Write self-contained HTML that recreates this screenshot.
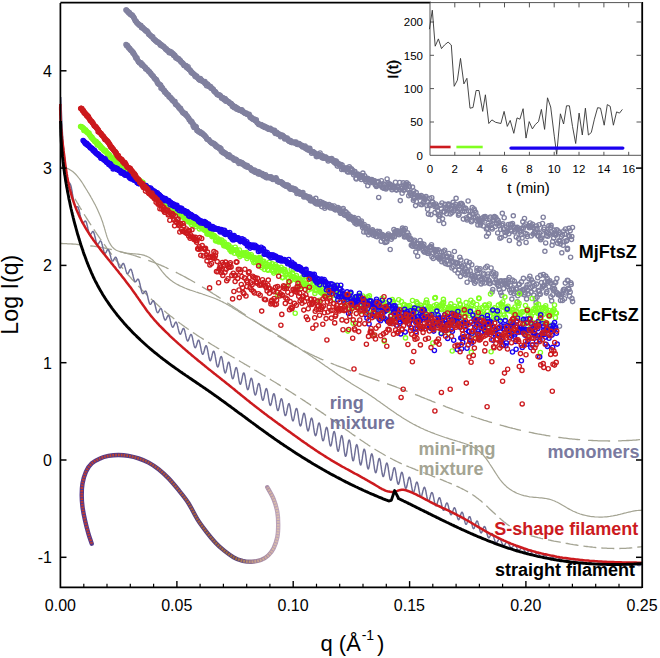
<!DOCTYPE html>
<html><head><meta charset="utf-8"><style>
html,body{margin:0;padding:0;background:#fff;}
svg{display:block;}
</style></head><body>
<svg width="660" height="658" viewBox="0 0 660 658">
<defs><marker id="mg" viewBox="-3 -3 6 6" markerWidth="6" markerHeight="6" markerUnits="userSpaceOnUse" refX="0" refY="0" overflow="visible"><circle r="2.1" fill="none" stroke="#80809f" stroke-width="1.35"/></marker><marker id="mr" viewBox="-3 -3 6 6" markerWidth="6" markerHeight="6" markerUnits="userSpaceOnUse" refX="0" refY="0" overflow="visible"><circle r="2.1" fill="none" stroke="#cc1a1e" stroke-width="1.35"/></marker><marker id="mgr" viewBox="-3 -3 6 6" markerWidth="6" markerHeight="6" markerUnits="userSpaceOnUse" refX="0" refY="0" overflow="visible"><circle r="2.1" fill="none" stroke="#80ff20" stroke-width="1.35"/></marker><marker id="mb" viewBox="-3 -3 6 6" markerWidth="6" markerHeight="6" markerUnits="userSpaceOnUse" refX="0" refY="0" overflow="visible"><circle r="2.1" fill="none" stroke="#1a00f0" stroke-width="1.35"/></marker></defs>
<rect width="660" height="658" fill="#fff"/>
<polyline points="60.3,243.5 61.8,243.5 63.3,243.6 64.8,243.6 66.3,243.7 67.8,243.8 69.3,243.8 70.8,243.9 72.3,244 73.8,244.1 75.3,244.2 76.8,244.3 78.3,244.5 79.8,244.6 81.3,244.7 82.8,244.9 84.3,245.1 85.8,245.2 87.3,245.4 88.8,245.6 90.2,245.8 91.7,246 93.2,246.2 94.7,246.4 96.2,246.7 97.7,246.9 99.1,247.1 100.6,247.4 102.1,247.7 103.6,247.9 105,248.2 106.5,248.5 108,248.8 109.4,249.1 110.9,249.4 112.4,249.7 113.8,250 115.3,250.4 116.8,250.7 118.2,251.1 119.7,251.4 121.1,251.8 122.6,252.2 124,252.6 125.5,253 126.9,253.4 128.3,253.8 129.8,254.2 131.2,254.6 132.6,255 134.1,255.5 135.5,255.9 136.9,256.4 138.3,256.8 139.8,257.3 141.2,257.8 142.6,258.3 144,258.8 145.4,259.3 146.8,259.8 148.2,260.3 149.6,260.8 151,261.3 152.4,261.9 153.8,262.4 155.2,263 156.6,263.5 158,264.1 159.3,264.7 160.7,265.2 162.1,265.8 163.5,266.4 164.8,267 166.2,267.6 167.5,268.3 168.9,268.9 170.2,269.5 171.6,270.2 172.9,270.8 174.3,271.5 175.6,272.1 177,272.8 178.3,273.5 179.6,274.2 180.9,274.8 182.3,275.5 183.6,276.2 184.9,276.9 186.2,277.6 187.5,278.4 188.8,279.1 190.1,279.8 191.4,280.5 192.7,281.3 194,282 195.3,282.8 196.6,283.5 197.9,284.3 199.2,285 200.5,285.8 201.8,286.6 203,287.4 204.3,288.1 205.6,288.9 206.9,289.7 208.1,290.5 209.4,291.3 210.7,292.1 212,292.9 213.2,293.7 214.5,294.5 215.8,295.3 217,296.1 218.3,296.9 219.5,297.7 220.8,298.5 222.1,299.4 223.3,300.2 224.6,301 225.8,301.8 227.1,302.7 228.3,303.5 229.6,304.3 230.8,305.2 232.1,306 233.3,306.8 234.6,307.7 235.8,308.5 237.1,309.3 238.3,310.2 239.6,311 240.8,311.8 242.1,312.7 243.3,313.5 244.6,314.3 245.8,315.2 247.1,316 248.3,316.8 249.6,317.7 250.8,318.5 252.1,319.3 253.3,320.2 254.6,321 255.8,321.8 257.1,322.7 258.3,323.5 259.6,324.3 260.8,325.1 262.1,326 263.3,326.8 264.6,327.6 265.9,328.4 267.1,329.2 268.4,330 269.6,330.8 270.9,331.6 272.2,332.4 273.4,333.2 274.7,334 276,334.8 277.2,335.6 278.5,336.4 279.8,337.2 281.1,337.9 282.3,338.7 283.6,339.5 284.9,340.2 286.2,341 287.5,341.8 288.7,342.5 290,343.2 291.3,344 292.6,344.7 293.9,345.5 295.2,346.2 296.5,346.9 297.8,347.6 299.1,348.3 300.4,349 301.7,349.7 303.1,350.4 304.4,351.1 305.7,351.8 307,352.4 308.4,353.1 309.7,353.8 311,354.4 312.3,355 313.7,355.7 315,356.3 316.4,356.9 317.7,357.5 319.1,358.2 320.4,358.8 321.8,359.4 323.2,359.9 324.5,360.5 325.9,361.1 327.3,361.7 328.6,362.3 330,362.8 331.4,363.4 332.8,363.9 334.1,364.5 335.5,365 336.9,365.6 338.3,366.1 339.7,366.6 341.1,367.2 342.5,367.7 343.9,368.2 345.3,368.7 346.6,369.3 348,369.8 349.4,370.3 350.8,370.8 352.3,371.3 353.7,371.8 355.1,372.3 356.5,372.8 357.9,373.3 359.3,373.8 360.7,374.3 362.1,374.8 363.5,375.3 364.9,375.8 366.3,376.3 367.7,376.8 369.2,377.3 370.6,377.8 372,378.3 373.4,378.8 374.8,379.3 376.2,379.8 377.6,380.3 379,380.8 380.4,381.3 381.9,381.8 383.3,382.3 384.7,382.8 386.1,383.3 387.5,383.8 388.9,384.3 390.3,384.8 391.7,385.4 393.1,385.9 394.5,386.4 395.9,386.9 397.3,387.5 398.7,388 400.1,388.5 401.5,389.1 402.9,389.6 404.3,390.2 405.7,390.7 407.1,391.3 408.5,391.8 409.9,392.4 411.3,392.9 412.7,393.5 414.1,394 415.5,394.6 416.9,395.1 418.3,395.7 419.7,396.2 421.1,396.8 422.4,397.4 423.8,397.9 425.2,398.5 426.6,399 428,399.6 429.4,400.1 430.8,400.7 432.2,401.3 433.6,401.8 435,402.4 436.4,402.9 437.8,403.5 439.2,404 440.5,404.6 441.9,405.1 443.3,405.7 444.7,406.2 446.1,406.8 447.5,407.3 448.9,407.8 450.3,408.4 451.7,408.9 453.1,409.5 454.5,410 455.9,410.5 457.3,411 458.7,411.5 460.1,412.1 461.5,412.6 462.9,413.1 464.4,413.6 465.8,414.1 467.2,414.6 468.6,415.1 470,415.6 471.4,416.1 472.8,416.5 474.2,417 475.7,417.5 477.1,418 478.5,418.4 479.9,418.9 481.3,419.3 482.8,419.8 484.2,420.3 485.6,420.7 487,421.1 488.5,421.6 489.9,422 491.3,422.4 492.7,422.9 494.2,423.3 495.6,423.7 497,424.1 498.5,424.5 499.9,424.9 501.3,425.3 502.8,425.7 504.2,426.1 505.7,426.5 507.1,426.9 508.5,427.3 510,427.7 511.4,428 512.9,428.4 514.3,428.7 515.8,429.1 517.2,429.5 518.7,429.8 520.1,430.1 521.6,430.5 523,430.8 524.5,431.1 525.9,431.5 527.4,431.8 528.8,432.1 530.3,432.4 531.7,432.7 533.2,433 534.7,433.3 536.1,433.6 537.6,433.9 539,434.1 540.5,434.4 542,434.7 543.4,434.9 544.9,435.2 546.4,435.5 547.8,435.7 549.3,435.9 550.8,436.2 552.2,436.4 553.7,436.6 555.2,436.9 556.7,437.1 558.1,437.3 559.6,437.5 561.1,437.7 562.6,437.9 564.1,438.1 565.5,438.2 567,438.4 568.5,438.6 570,438.8 571.5,438.9 572.9,439.1 574.4,439.2 575.9,439.4 577.4,439.5 578.9,439.6 580.4,439.7 581.9,439.9 583.4,440 584.9,440.1 586.4,440.2 587.8,440.3 589.3,440.4 590.8,440.4 592.3,440.5 593.8,440.6 595.3,440.7 596.8,440.7 598.3,440.8 599.8,440.8 601.3,440.9 602.8,440.9 604.3,440.9 605.8,440.9 607.3,440.9 608.9,441 610.4,441 611.9,440.9 613.4,440.9 614.9,440.9 616.4,440.9 617.9,440.9 619.4,440.8 620.9,440.8 622.5,440.7 624,440.7 625.5,440.6 627,440.5 628.5,440.5 630,440.4 631.6,440.3 633.1,440.2 634.6,440.1 636.1,440 637.6,439.8 639.2,439.7 640.7,439.6 642.2,439.4" fill="none" stroke="#a4a493" stroke-width="1.3" stroke-dasharray="22 8"/>
<polyline points="60.4,166.8 62,167 63.5,167.2 65,167.5 66.4,168 67.8,168.5 69.1,169.2 70.3,169.9 71.5,170.7 72.7,171.5 73.8,172.5 74.9,173.5 75.9,174.5 76.9,175.6 77.9,176.8 78.8,178 79.7,179.2 80.6,180.4 81.5,181.7 82.4,183 83.2,184.3 84,185.6 84.8,186.9 85.6,188.2 86.4,189.5 87.2,190.8 88,192.1 88.8,193.3 89.5,194.6 90.3,195.9 91,197.2 91.7,198.4 92.4,199.7 93.1,201 93.8,202.3 94.5,203.6 95.2,204.8 95.8,206.1 96.5,207.5 97.1,208.8 97.7,210.1 98.3,211.4 98.9,212.8 99.5,214.2 100.1,215.5 100.7,216.9 101.2,218.3 101.7,219.8 102.3,221.2 102.8,222.7 103.2,224.2 103.7,225.7 104.2,227.2 104.6,228.7 105.1,230.3 105.5,231.9 106,233.4 106.4,234.9 106.9,236.5 107.4,237.9 108,239.4 108.6,240.8 109.2,242.2 109.9,243.4 110.6,244.7 111.4,245.8 112.2,246.9 113.1,247.8 114.1,248.7 115.2,249.5 116.3,250.2 117.5,250.8 118.8,251.3 120.1,251.8 121.4,252.2 122.8,252.5 124.3,252.8 125.7,253.1 127.2,253.3 128.7,253.4 130.2,253.6 131.8,253.7 133.3,253.8 134.8,253.9 136.4,254 137.9,254.1 139.4,254.3 140.8,254.5 142.3,254.8 143.7,255.1 145,255.6 146.4,256.1 147.7,256.7 148.9,257.3 150.1,258.1 151.3,258.9 152.4,259.8 153.5,260.8 154.5,261.9 155.5,263 156.5,264.2 157.5,265.4 158.5,266.6 159.4,267.8 160.4,269.1 161.3,270.3 162.3,271.6 163.3,272.8 164.3,274 165.3,275.1 166.3,276.3 167.4,277.3 168.5,278.3 169.6,279.3 170.8,280.2 172,281.1 173.2,281.9 174.4,282.7 175.6,283.5 176.9,284.2 178.2,284.9 179.5,285.6 180.8,286.2 182.1,286.8 183.4,287.4 184.8,288 186.2,288.5 187.5,289.1 188.9,289.6 190.3,290.1 191.7,290.5 193.1,291 194.6,291.5 196,292 197.4,292.4 198.8,292.9 200.2,293.3 201.7,293.8 203.1,294.3 204.5,294.7 205.9,295.2 207.3,295.7 208.8,296.2 210.2,296.7 211.6,297.2 213,297.7 214.4,298.2 215.7,298.8 217.1,299.4 218.5,300 219.8,300.6 221.2,301.3 222.5,301.9 223.8,302.6 225.2,303.3 226.5,304.1 227.8,304.8 229.1,305.6 230.4,306.3 231.7,307.1 232.9,307.9 234.2,308.7 235.5,309.5 236.8,310.3 238.1,311.1 239.3,311.9 240.6,312.7 241.9,313.5 243.1,314.3 244.4,315.1 245.7,315.9 247,316.7 248.2,317.5 249.5,318.2 250.8,319 252.1,319.8 253.4,320.6 254.7,321.3 255.9,322.1 257.2,322.8 258.5,323.6 259.8,324.4 261.1,325.1 262.4,325.9 263.7,326.6 265,327.4 266.2,328.1 267.5,328.9 268.8,329.6 270.1,330.4 271.4,331.1 272.7,331.9 274,332.7 275.2,333.4 276.5,334.2 277.8,335 279.1,335.7 280.4,336.5 281.6,337.3 282.9,338.1 284.2,338.9 285.5,339.6 286.7,340.4 288,341.2 289.3,342 290.5,342.8 291.8,343.6 293.1,344.4 294.3,345.2 295.6,346 296.8,346.8 298.1,347.6 299.4,348.4 300.6,349.2 301.9,350 303.1,350.9 304.4,351.7 305.6,352.5 306.9,353.3 308.1,354.1 309.4,355 310.6,355.8 311.9,356.6 313.1,357.5 314.3,358.3 315.6,359.1 316.8,360 318.1,360.8 319.3,361.6 320.5,362.5 321.7,363.3 323,364.2 324.2,365 325.4,365.9 326.7,366.7 327.9,367.6 329.1,368.4 330.3,369.3 331.5,370.1 332.8,371 334,371.8 335.2,372.7 336.4,373.5 337.6,374.4 338.9,375.2 340.1,376 341.3,376.9 342.5,377.7 343.8,378.5 345,379.4 346.2,380.2 347.5,381 348.7,381.8 350,382.6 351.2,383.4 352.5,384.2 353.7,385 355,385.8 356.2,386.5 357.5,387.3 358.8,388.1 360,388.8 361.3,389.6 362.6,390.4 363.8,391.2 365.1,392 366.3,392.8 367.6,393.6 368.8,394.4 370.1,395.3 371.3,396.1 372.5,396.9 373.8,397.8 375,398.6 376.2,399.5 377.4,400.4 378.7,401.2 379.9,402.1 381.1,403 382.3,403.8 383.5,404.7 384.7,405.6 386,406.4 387.2,407.3 388.4,408.2 389.6,409 390.9,409.9 392.1,410.8 393.3,411.6 394.5,412.5 395.8,413.3 397,414.2 398.3,415 399.5,415.8 400.8,416.6 402,417.4 403.3,418.2 404.5,419 405.8,419.8 407.1,420.6 408.4,421.3 409.6,422.1 410.9,422.8 412.2,423.5 413.5,424.2 414.9,424.9 416.2,425.6 417.5,426.3 418.8,426.9 420.2,427.6 421.5,428.2 422.9,428.8 424.2,429.5 425.6,430.1 427,430.6 428.3,431.2 429.7,431.8 431.1,432.4 432.5,432.9 433.9,433.4 435.3,434 436.7,434.5 438.1,435 439.5,435.5 440.9,436 442.3,436.5 443.8,437 445.2,437.5 446.6,437.9 448.1,438.4 449.5,438.9 450.9,439.3 452.4,439.7 453.8,440.2 455.3,440.6 456.7,441 458.2,441.5 459.6,441.9 461,442.4 462.5,442.8 463.9,443.3 465.3,443.8 466.7,444.3 468.1,444.8 469.4,445.4 470.7,446 472,446.6 473.3,447.3 474.6,448 475.8,448.7 477,449.5 478.2,450.4 479.3,451.3 480.4,452.2 481.5,453.2 482.5,454.3 483.5,455.4 484.4,456.5 485.4,457.7 486.3,458.9 487.2,460.1 488.1,461.4 489,462.7 489.8,464 490.7,465.3 491.5,466.6 492.4,467.9 493.2,469.2 494.1,470.6 494.9,471.9 495.7,473.2 496.6,474.5 497.5,475.8 498.3,477.1 499.2,478.4 500.1,479.6 501.1,480.8 502,482 503,483.1 504,484.2 505.1,485.2 506.1,486.2 507.2,487.2 508.3,488.1 509.5,488.9 510.7,489.7 511.9,490.5 513.1,491.2 514.4,491.9 515.7,492.6 517,493.2 518.3,493.7 519.7,494.3 521,494.7 522.4,495.2 523.8,495.6 525.2,495.9 526.7,496.2 528.1,496.5 529.6,496.8 531.1,497 532.6,497.1 534.1,497.3 535.6,497.4 537.1,497.5 538.6,497.7 540.1,497.8 541.6,497.9 543.1,498.1 544.6,498.3 546.1,498.5 547.6,498.8 549,499.1 550.4,499.5 551.9,500 553.2,500.5 554.6,501 556,501.7 557.3,502.3 558.7,503 560,503.7 561.3,504.5 562.6,505.3 563.9,506 565.2,506.8 566.5,507.6 567.9,508.4 569.2,509.1 570.5,509.8 571.9,510.5 573.2,511.2 574.6,511.8 576,512.4 577.4,513 578.8,513.5 580.2,514 581.6,514.4 583,514.8 584.5,515.2 585.9,515.5 587.4,515.8 588.8,516.1 590.3,516.4 591.8,516.6 593.2,516.7 594.7,516.9 596.2,517 597.7,517 599.2,517.1 600.7,517.1 602.1,517.1 603.6,517 605.1,516.9 606.6,516.8 608.1,516.6 609.6,516.5 611.1,516.2 612.6,516 614,515.7 615.5,515.4 617,515.1 618.5,514.7 619.9,514.4 621.4,514 622.9,513.6 624.3,513.2 625.8,512.9 627.2,512.5 628.7,512.1 630.2,511.8 631.6,511.5 633.1,511.2 634.6,510.9 636,510.7 637.5,510.5 639,510.4 640.5,510.3 642,510.2" fill="none" stroke="#a4a493" stroke-width="1.2" stroke-linejoin="round"/>
<polyline points="66.3,183 67,184.3 67.7,185.6 68.4,186.9 69.1,188.2 69.8,189.5 70.5,190.8 71.2,192.1 72,193.4 72.7,194.7 73.4,196 74.1,197.3 74.9,198.6 75.6,199.9 76.4,201.2 77.1,202.5 77.9,203.7 78.6,205 79.4,206.3 80.1,207.6 80.9,208.9 81.7,210.2 82.5,211.4 83.2,212.7 84,214 84.8,215.3 85.6,216.5 86.4,217.8 87.2,219.1 88,220.4 88.8,221.6 89.6,222.9 90.4,224.1 91.2,225.4 92,226.7 92.9,227.9 93.7,229.2 94.5,230.4 95.3,231.7 96.2,232.9 97,234.2 97.9,235.4 98.7,236.6 99.6,237.9 100.4,239.1 101.3,240.3 102.2,241.6 103,242.8 103.9,244 104.8,245.2 105.7,246.4 106.5,247.7 107.4,248.9 108.3,250.1 109.2,251.3 110.1,252.5 111,253.7 111.9,254.9 112.9,256.1 113.8,257.3 114.7,258.4 115.6,259.6 116.5,260.8 117.5,262 118.4,263.1 119.4,264.3 120.3,265.5 121.3,266.6 122.2,267.8 123.2,268.9 124.1,270.1 125.1,271.2 126.1,272.4 127,273.5 128,274.7 129,275.8 130,276.9 131,278 132,279.2 133,280.3 134,281.4 135,282.5 136,283.6 137,284.7 138.1,285.8 139.1,286.8 140.1,287.9 141.2,289 142.2,290.1 143.2,291.1 144.3,292.2 145.3,293.3 146.4,294.3 147.5,295.4 148.5,296.4 149.6,297.5 150.7,298.5 151.7,299.5 152.8,300.5 153.9,301.6 155,302.6 156.1,303.6 157.2,304.6 158.3,305.6 159.4,306.6 160.5,307.6 161.7,308.5 162.8,309.5 163.9,310.5 165.1,311.5 166.2,312.4 167.3,313.4 168.5,314.3 169.6,315.3 170.8,316.2 172,317.1 173.1,318 174.3,319 175.5,319.9 176.7,320.8 177.8,321.7 179,322.6 180.2,323.5 181.4,324.3 182.6,325.2 183.8,326.1 185,327 186.3,327.8 187.5,328.7 188.7,329.5 189.9,330.4 191.1,331.2 192.4,332.1 193.6,332.9 194.9,333.7 196.1,334.5 197.3,335.4 198.6,336.2 199.8,337 201.1,337.8 202.4,338.6 203.6,339.4 204.9,340.2 206.1,341 207.4,341.8 208.7,342.6 209.9,343.4 211.2,344.2 212.5,345 213.8,345.7 215,346.5 216.3,347.3 217.6,348.1 218.9,348.8 220.2,349.6 221.5,350.4 222.7,351.1 224,351.9 225.3,352.7 226.6,353.4 227.9,354.2 229.2,355 230.5,355.7 231.8,356.5 233.1,357.2 234.4,358 235.6,358.8 236.9,359.5 238.2,360.3 239.5,361 240.8,361.8 242.1,362.5 243.4,363.3 244.7,364.1 246,364.8 247.3,365.6 248.6,366.3 249.9,367.1 251.1,367.9 252.4,368.6 253.7,369.4 255,370.2 256.3,370.9 257.6,371.7 258.9,372.5 260.1,373.2 261.4,374 262.7,374.8 264,375.5 265.3,376.3 266.5,377.1 267.8,377.9 269.1,378.6 270.4,379.4 271.6,380.2 272.9,381 274.2,381.8 275.5,382.5 276.7,383.3 278,384.1 279.3,384.9 280.5,385.7 281.8,386.5 283.1,387.3 284.3,388 285.6,388.8 286.9,389.6 288.1,390.4 289.4,391.2 290.7,392 291.9,392.8 293.2,393.6 294.4,394.4 295.7,395.2 297,396.1 298.2,396.9 299.5,397.7 300.7,398.5 302,399.3 303.2,400.1 304.5,400.9 305.7,401.8 307,402.6 308.2,403.4 309.5,404.2 310.7,405.1 311.9,405.9 313.2,406.7 314.4,407.5 315.7,408.4 316.9,409.2 318.1,410.1 319.4,410.9 320.6,411.7 321.9,412.6 323.1,413.4 324.3,414.3 325.5,415.1 326.8,416 328,416.8 329.2,417.7 330.5,418.6 331.7,419.4 332.9,420.3 334.1,421.2 335.4,422 336.6,422.9 337.8,423.8 339,424.6 340.2,425.5 341.5,426.4 342.7,427.2 343.9,428.1 345.1,429 346.3,429.9 347.6,430.7 348.8,431.6 350,432.5 351.2,433.3 352.4,434.2 353.7,435.1 354.9,435.9 356.1,436.8 357.4,437.6 358.6,438.5 359.8,439.3 361.1,440.2 362.3,441 363.5,441.8 364.8,442.7 366,443.5 367.3,444.3 368.5,445.2 369.8,446 371,446.8 372.3,447.6 373.5,448.4 374.8,449.2 376.1,450 377.3,450.7 378.6,451.5 379.9,452.3 381.2,453 382.5,453.8 383.7,454.5 385,455.3 386.3,456 387.6,456.7 388.9,457.4 390.3,458.1 391.6,458.8 392.9,459.5 394.2,460.2 395.6,460.9 396.9,461.5 398.2,462.2 399.6,462.8 400.9,463.4 402.3,464 403.7,464.6 405,465.2 406.4,465.8 407.8,466.4 409.2,467 410.6,467.5 412,468.1 413.4,468.7 414.7,469.2 416.1,469.8 417.5,470.3 418.9,470.9 420.3,471.4 421.8,471.9 423.2,472.5 424.6,473 426,473.5 427.4,474.1 428.8,474.6 430.2,475.2 431.6,475.7 433,476.3 434.4,476.8 435.8,477.4 437.1,477.9 438.5,478.5 439.9,479.1 441.3,479.6 442.7,480.2 444.1,480.8 445.5,481.4 446.8,482 448.2,482.5 449.6,483.1 451,483.7 452.3,484.3 453.7,484.9 455.1,485.5 456.4,486.1 457.8,486.7 459.2,487.3 460.5,488 461.8,488.6 463.2,489.3 464.5,490 465.8,490.7 467.1,491.4 468.4,492.1 469.7,492.9 470.9,493.6 472.2,494.4 473.4,495.3 474.6,496.1 475.8,497 477,497.9 478.2,498.8 479.3,499.7 480.5,500.6 481.6,501.6 482.8,502.6 483.9,503.6 485,504.6 486.1,505.6 487.2,506.6 488.3,507.6 489.4,508.7 490.5,509.7 491.6,510.7 492.7,511.8 493.8,512.8 494.9,513.8 496,514.9 497.1,515.9 498.2,516.9 499.3,517.9 500.4,518.8 501.5,519.8 502.7,520.8 503.8,521.7 505,522.6 506.1,523.5 507.3,524.4 508.5,525.2 509.7,526 510.9,526.8 512.1,527.6 513.4,528.3 514.6,529 515.9,529.7 517.2,530.4 518.5,531 519.8,531.6 521.2,532.2 522.5,532.7 523.9,533.3 525.2,533.8 526.6,534.3 528,534.7 529.4,535.2 530.8,535.6 532.2,536 533.6,536.4 535.1,536.8 536.5,537.2 538,537.6 539.4,537.9 540.9,538.3 542.3,538.6 543.8,538.9 545.3,539.3 546.7,539.6 548.2,539.9 549.7,540.2 551.2,540.5 552.7,540.8 554.1,541.1 555.6,541.3 557.1,541.6 558.6,541.9 560.1,542.2 561.6,542.5 563,542.7 564.5,543 566,543.3 567.5,543.5 569,543.8 570.5,544.1 572,544.3 573.4,544.6 574.9,544.8 576.4,545 577.9,545.3 579.4,545.5 580.9,545.7 582.4,545.9 583.9,546.1 585.3,546.3 586.8,546.5 588.3,546.7 589.8,546.8 591.3,547 592.8,547.2 594.3,547.3 595.8,547.5 597.3,547.6 598.8,547.7 600.3,547.9 601.7,548 603.2,548.1 604.7,548.1 606.2,548.2 607.7,548.3 609.2,548.4 610.7,548.4 612.2,548.4 613.7,548.5 615.2,548.5 616.7,548.5 618.1,548.5 619.6,548.5 621.1,548.4 622.6,548.4 624.1,548.3 625.6,548.3 627.1,548.2 628.6,548.1 630.1,548 631.6,547.9 633,547.7 634.5,547.6 636,547.4 637.5,547.2 639,547 640.5,546.8 642,546.6" fill="none" stroke="#a4a493" stroke-width="1.3" stroke-dasharray="13 5"/>
<polyline points="60.8,97 61.3,110 62,125 62.8,140 63.8,152 65,163 66.3,172 67.7,179 67.9,180.5 68.2,181.4 68.6,182.1 68.9,182.6 69.3,182.9 69.6,183.2 70,183.5 70.3,184.2 70.7,185.1 71,186.3 71.4,187.8 71.7,189.6 72.1,191.5 72.4,193.7 72.8,195.8 73.1,198 73.5,200 73.8,201.9 74.2,203.5 74.5,204.8 74.9,205.7 75.2,206.4 75.6,206.7 75.9,206.9 76.3,206.8 76.6,206.7 77,206.6 77.3,206.6 77.7,206.8 78,207.2 78.4,207.9 78.7,208.9 79.1,210.1 79.4,211.6 79.8,213.2 80.1,214.9 80.5,216.7 80.8,218.4 81.2,219.9 81.5,221.1 81.9,222.1 82.2,222.8 82.6,223.2 82.9,223.3 83.3,223.1 83.6,222.7 84,222.2 84.3,221.7 84.7,221.3 85,221.1 85.4,221 85.7,221.3 86.1,221.8 86.4,222.6 86.8,223.8 87.1,225.1 87.5,226.6 87.8,228.2 88.2,229.7 88.5,231.2 88.9,232.4 89.2,233.4 89.6,234.1 89.9,234.5 90.3,234.6 90.6,234.4 91,233.9 91.3,233.4 91.7,232.8 92,232.2 92.4,231.8 92.7,231.5 93.1,231.5 93.4,231.9 93.8,232.5 94.1,233.4 94.5,234.6 94.8,236 95.2,237.5 95.5,239.1 95.9,240.5 96.2,241.9 96.6,243 96.9,243.8 97.3,244.3 97.6,244.5 98,244.3 98.3,244 98.7,243.4 99,242.7 99.4,242.1 99.7,241.5 100.1,241.1 100.4,240.9 100.8,241 101.1,241.5 101.5,242.2 101.8,243.3 102.2,244.5 102.5,246 102.9,247.4 103.2,248.9 103.6,250.3 103.9,251.4 104.3,252.4 104.6,253 105,253.2 105.3,253.2 105.7,252.9 106,252.4 106.4,251.8 106.7,251.1 107.1,250.4 107.4,249.9 107.8,249.6 108.1,249.5 108.5,249.8 108.8,250.3 109.2,251.2 109.5,252.3 109.9,253.6 110.2,255 110.6,256.4 110.9,257.7 111.3,258.9 111.6,259.9 112,260.6 112.3,261 112.7,261.1 113,260.9 113.4,260.5 113.7,259.9 114.1,259.2 114.4,258.5 114.8,257.9 115.1,257.4 115.5,257.2 115.8,257.2 116.2,257.6 116.5,258.2 116.9,259.1 117.2,260.3 117.6,261.5 117.9,262.9 118.3,264.2 118.6,265.5 119,266.5 119.3,267.3 119.7,267.8 120,268 120.4,267.9 120.7,267.5 121.1,266.9 121.4,266.2 121.8,265.4 122.1,264.6 122.5,264 122.8,263.6 123.2,263.4 123.5,263.5 123.9,264 124.2,264.7 124.6,265.7 124.9,266.8 125.3,268.1 125.6,269.4 126,270.7 126.3,271.8 126.7,272.7 127,273.3 127.4,273.6 127.7,273.6 128.1,273.3 128.4,272.8 128.8,272.2 129.1,271.4 129.5,270.6 129.8,270 130.2,269.5 130.5,269.3 130.9,269.3 131.2,269.7 131.6,270.4 131.9,271.4 132.3,272.6 132.6,274 133,275.5 133.3,277 133.7,278.4 134,279.6 134.4,280.6 134.7,281.3 135.1,281.7 135.4,281.8 135.8,281.6 136.1,281.2 136.5,280.7 136.8,280.2 137.2,279.7 137.5,279.3 137.9,279.1 138.2,279.2 138.6,279.6 138.9,280.4 139.3,281.4 139.6,282.7 140,284.2 140.3,285.8 140.7,287.5 141,289.1 141.4,290.5 141.7,291.7 142.1,292.7 142.4,293.3 142.8,293.6 143.1,293.6 143.5,293.3 143.8,292.9 144.2,292.4 144.5,291.8 144.9,291.4 145.2,291.1 145.6,291 145.9,291.2 146.3,291.7 146.6,292.6 147,293.7 147.3,295 147.7,296.5 148,298.1 148.4,299.7 148.7,301.1 149.1,302.3 149.4,303.3 149.8,304 150.1,304.3 150.5,304.3 150.8,304.1 151.2,303.6 151.5,302.9 151.9,302.2 152.2,301.6 152.6,301.1 152.9,300.7 153.3,300.7 153.6,300.9 154,301.5 154.3,302.4 154.7,303.5 155,304.8 155.4,306.3 155.7,307.8 156.1,309.2 156.4,310.5 156.8,311.5 157.1,312.2 157.5,312.6 157.8,312.7 158.2,312.5 158.5,312 158.9,311.4 159.2,310.6 159.6,309.9 159.9,309.2 160.3,308.7 160.6,308.4 161,308.5 161.3,308.8 161.7,309.5 162,310.5 162.4,311.7 162.7,313.1 163.1,314.5 163.4,316 163.8,317.3 164.1,318.4 164.5,319.3 164.8,319.9 165.2,320.1 165.5,320 165.9,319.6 166.2,319 166.6,318.3 166.9,317.5 167.3,316.7 167.6,316.1 168,315.7 168.3,315.5 168.7,315.7 169,316.2 169.4,317 169.7,318.1 170.1,319.4 170.4,320.9 170.8,322.3 171.1,323.7 171.5,325 171.8,326 172.2,326.7 172.5,327.1 172.9,327.2 173.2,326.9 173.6,326.4 173.9,325.6 174.3,324.8 174.6,323.9 175,323.1 175.3,322.5 175.7,322.2 176,322.1 176.4,322.5 176.7,323.1 177.1,324.1 177.4,325.4 177.8,326.8 178.1,328.4 178.5,329.9 178.8,331.3 179.2,332.5 179.5,333.4 179.9,334 180.2,334.2 180.6,334.1 180.9,333.6 181.3,332.8 181.6,331.9 182,330.9 182.3,330 182.7,329.2 183,328.6 183.4,328.4 183.7,328.5 184.1,329 184.4,329.9 184.8,331.1 185.1,332.5 185.5,334.1 185.8,335.7 186.2,337.3 186.5,338.7 186.9,339.8 187.2,340.6 187.6,341 187.9,340.9 188.3,340.6 188.6,339.8 189,338.9 189.3,337.8 189.7,336.7 190,335.8 190.4,335 190.7,334.5 191.1,334.4 191.4,334.7 191.8,335.4 192.1,336.5 192.5,337.9 192.8,339.5 193.2,341.3 193.5,343 193.9,344.6 194.2,345.9 194.6,346.9 194.9,347.5 195.3,347.7 195.6,347.4 196,346.8 196.3,345.8 196.7,344.7 197,343.5 197.4,342.3 197.7,341.2 198.1,340.5 198.4,340.2 198.8,340.2 199.1,340.7 199.5,341.7 199.8,343 200.2,344.7 200.5,346.5 200.9,348.4 201.2,350.2 201.6,351.8 201.9,353 202.3,353.9 202.6,354.3 203,354.2 203.3,353.6 203.7,352.7 204,351.5 204.4,350.2 204.7,348.8 205.1,347.6 205.4,346.6 205.8,345.9 206.1,345.7 206.5,346 206.8,346.8 207.2,348 207.5,349.6 207.9,351.5 208.2,353.5 208.6,355.5 208.9,357.3 209.3,358.8 209.6,359.9 210,360.6 210.3,360.7 210.7,360.3 211,359.5 211.4,358.3 211.7,356.9 212.1,355.4 212.4,353.9 212.8,352.6 213.1,351.7 213.5,351.2 213.8,351.2 214.2,351.8 214.5,352.9 214.9,354.4 215.2,356.2 215.6,358.3 215.9,360.5 216.3,362.5 216.6,364.3 217,365.7 217.3,366.6 217.7,367 218,366.8 218.4,366.2 218.7,365 219.1,363.6 219.4,362 219.8,360.3 220.1,358.8 220.5,357.6 220.8,356.8 221.2,356.5 221.5,356.8 221.9,357.6 222.2,359 222.6,360.8 222.9,362.9 223.3,365.2 223.6,367.4 224,369.4 224.3,371.1 224.7,372.3 225,372.9 225.4,373 225.7,372.5 226.1,371.5 226.4,370.2 226.8,368.5 227.1,366.8 227.5,365.1 227.8,363.7 228.2,362.6 228.5,362.1 228.9,362.1 229.2,362.7 229.6,363.8 229.9,365.5 230.3,367.5 230.6,369.7 231,371.9 231.3,374.1 231.7,376 232,377.4 232.4,378.4 232.7,378.7 233.1,378.5 233.4,377.7 233.8,376.5 234.1,375 234.5,373.2 234.8,371.5 235.2,369.9 235.5,368.6 235.9,367.8 236.2,367.5 236.6,367.8 236.9,368.7 237.3,370.1 237.6,371.9 238,374 238.3,376.3 238.7,378.6 239,380.6 239.4,382.3 239.7,383.5 240.1,384.2 240.4,384.2 240.8,383.7 241.1,382.7 241.5,381.3 241.8,379.6 242.2,377.8 242.5,376.1 242.9,374.6 243.2,373.5 243.6,373 243.9,373 244.3,373.5 244.6,374.7 245,376.3 245.3,378.4 245.7,380.6 246,382.9 246.4,385.1 246.7,387 247.1,388.4 247.4,389.4 247.8,389.7 248.1,389.5 248.5,388.7 248.8,387.4 249.2,385.8 249.5,384.1 249.9,382.3 250.2,380.7 250.6,379.4 250.9,378.5 251.3,378.2 251.6,378.5 252,379.4 252.3,380.8 252.7,382.6 253,384.8 253.4,387.1 253.7,389.3 254.1,391.4 254.4,393.1 254.8,394.3 255.1,395 255.5,395 255.8,394.5 256.2,393.4 256.5,392 256.9,390.3 257.2,388.4 257.6,386.7 257.9,385.2 258.3,384.1 258.6,383.5 259,383.5 259.3,384.1 259.7,385.2 260,386.9 260.4,388.9 260.7,391.2 261.1,393.5 261.4,395.7 261.8,397.5 262.1,399 262.5,400 262.8,400.3 263.2,400.1 263.5,399.3 263.9,398 264.2,396.4 264.6,394.6 264.9,392.7 265.3,391.1 265.6,389.8 266,388.9 266.3,388.6 266.7,388.9 267,389.7 267.4,391.2 267.7,393 268.1,395.2 268.4,397.5 268.8,399.8 269.1,401.8 269.5,403.5 269.8,404.7 270.2,405.4 270.5,405.4 270.9,404.9 271.2,403.8 271.6,402.4 271.9,400.6 272.3,398.8 272.6,397 273,395.5 273.3,394.4 273.7,393.8 274,393.7 274.4,394.3 274.7,395.5 275.1,397.1 275.4,399.2 275.8,401.4 276.1,403.7 276.5,405.9 276.8,407.9 277.2,409.3 277.5,410.3 277.9,410.6 278.2,410.4 278.6,409.5 278.9,408.2 279.3,406.6 279.6,404.8 280,402.9 280.3,401.3 280.7,399.9 281,399 281.4,398.7 281.7,399 282.1,399.8 282.4,401.3 282.8,403.1 283.1,405.3 283.5,407.6 283.8,409.9 284.2,412 284.5,413.7 284.9,414.9 285.2,415.6 285.6,415.6 285.9,415.1 286.3,414 286.6,412.5 287,410.7 287.3,408.8 287.7,407 288,405.5 288.4,404.3 288.7,403.7 289.1,403.6 289.4,404.2 289.8,405.4 290.1,407.1 290.5,409.1 290.8,411.5 291.2,413.8 291.5,416.1 291.9,418 292.2,419.6 292.6,420.5 292.9,420.9 293.3,420.6 293.6,419.7 294,418.4 294.3,416.7 294.7,414.8 295,412.8 295.4,411.1 295.7,409.7 296.1,408.7 296.4,408.4 296.8,408.6 297.1,409.5 297.5,411 297.8,412.9 298.2,415.2 298.5,417.6 298.9,420 299.2,422.2 299.6,424 299.9,425.2 300.3,425.9 300.6,425.9 301,425.3 301.3,424.2 301.7,422.6 302,420.7 302.4,418.7 302.8,416.8 303.1,415.2 303.5,414 303.8,413.3 304.2,413.2 304.5,413.8 304.9,415.1 305.2,416.8 305.6,418.9 305.9,421.3 306.3,423.8 306.6,426.1 307,428.1 307.3,429.6 307.7,430.6 308,430.9 308.4,430.6 308.7,429.7 309.1,428.3 309.4,426.6 309.8,424.6 310.1,422.6 310.5,420.9 310.8,419.4 311.2,418.5 311.5,418.1 311.9,418.4 312.2,419.3 312.6,420.8 312.9,422.7 313.3,425 313.6,427.4 314,429.8 314.3,432 314.7,433.8 315,435 315.4,435.7 315.7,435.7 316.1,435.1 316.4,434 316.8,432.4 317.1,430.5 317.5,428.5 317.8,426.6 318.2,424.9 318.5,423.7 318.9,423 319.2,423 319.6,423.6 319.9,424.8 320.3,426.5 320.6,428.6 321,431 321.3,433.5 321.7,435.8 322,437.9 322.4,439.5 322.7,440.5 323.1,440.8 323.4,440.5 323.8,439.6 324.1,438.2 324.5,436.3 324.8,434.3 325.2,432.2 325.5,430.3 325.9,428.8 326.2,427.7 326.6,427.3 326.9,427.5 327.3,428.5 327.6,430 328,432.1 328.3,434.5 328.7,437.1 329,439.6 329.4,442 329.7,443.9 330.1,445.3 330.4,446 330.8,446 331.1,445.4 331.5,444.1 331.8,442.3 332.2,440.2 332.5,437.9 332.9,435.8 333.2,433.9 333.6,432.5 333.9,431.6 334.3,431.5 334.6,432.1 335,433.4 335.3,435.4 335.7,437.8 336,440.4 336.4,443.2 336.7,445.8 337.1,448.1 337.4,449.8 337.8,450.9 338.1,451.3 338.5,450.9 338.8,449.9 339.2,448.2 339.5,446.1 339.9,443.7 340.2,441.3 340.6,439.1 340.9,437.4 341.3,436.1 341.6,435.6 342,435.9 342.3,436.9 342.7,438.6 343,440.9 343.4,443.6 343.7,446.5 344.1,449.3 344.4,451.9 344.8,454.1 345.1,455.6 345.5,456.3 345.8,456.3 346.2,455.5 346.5,454 346.9,452 347.2,449.6 347.6,447 347.9,444.6 348.3,442.6 348.6,441 349,440.1 349.3,440 349.7,440.7 350,442.1 350.4,444.2 350.7,446.7 351.1,449.5 351.4,452.4 351.8,455.2 352.1,457.5 352.5,459.3 352.8,460.5 353.2,460.8 353.5,460.4 353.9,459.2 354.2,457.4 354.6,455.2 354.9,452.8 355.3,450.3 355.6,448.1 356,446.3 356.3,445.1 356.7,444.6 357,444.9 357.4,445.9 357.7,447.6 358.1,449.9 358.4,452.6 358.8,455.4 359.1,458.2 359.5,460.7 359.8,462.8 360.2,464.2 360.5,464.9 360.9,464.9 361.2,464.1 361.6,462.6 361.9,460.7 362.3,458.4 362.6,456 363,453.6 363.3,451.7 363.7,450.2 364,449.3 364.4,449.2 364.7,449.9 365.1,451.2 365.4,453.2 365.8,455.6 366.1,458.3 366.5,461.1 366.8,463.7 367.2,465.9 367.5,467.6 367.9,468.6 368.2,468.9 368.6,468.5 368.9,467.4 369.3,465.8 369.6,463.7 370,461.4 370.3,459.1 370.7,457.1 371,455.4 371.4,454.3 371.7,453.8 372.1,454.1 372.4,455.1 372.8,456.7 373.1,458.8 373.5,461.3 373.8,463.9 374.2,466.5 374.5,468.8 374.9,470.7 375.2,472.1 375.6,472.7 375.9,472.7 376.3,471.9 376.6,470.6 377,468.8 377.3,466.7 377.7,464.5 378,462.4 378.4,460.6 378.7,459.3 379.1,458.5 379.4,458.5 379.8,459.1 380.1,460.3 380.5,462.1 380.8,464.4 381.2,466.8 381.5,469.4 381.9,471.7 382.2,473.8 382.6,475.3 382.9,476.3 383.3,476.6 383.6,476.2 384,475.2 384.3,473.7 384.7,471.9 385,469.8 385.4,467.8 385.7,465.9 386.1,464.4 386.4,463.4 386.8,463 387.1,463.3 387.5,464.2 387.8,465.7 388.2,467.6 388.5,469.9 388.9,472.3 389.2,474.6 389.6,476.8 389.9,478.5 390.3,479.7 390.6,480.3 391,480.3 391.3,479.7 391.7,478.5 392,476.9 392.4,475 392.7,473 393.1,471.2 393.4,469.6 393.8,468.4 394.1,467.7 394.5,467.7 394.8,468.2 395.2,469.4 395.5,471.1 395.9,473.1 396.2,475.4 396.6,477.7 396.9,479.8 397.3,481.7 397.6,483.1 398,484 398.3,484.3 398.7,484 399,483.1 399.4,481.8 399.7,480.2 400.1,478.3 400.4,476.5 400.8,474.8 401.1,473.5 401.5,472.6 401.8,472.3 402.2,472.6 402.5,473.4 402.9,474.8 403.2,476.6 403.6,478.7 403.9,480.9 404.3,483 404.6,485 405,486.6 405.3,487.7 405.7,488.3 406,488.3 406.4,487.7 406.7,486.7 407.1,485.3 407.4,483.6 407.8,481.9 408.1,480.2 408.5,478.8 408.8,477.8 409.2,477.2 409.5,477.2 409.9,477.8 410.2,478.8 410.6,480.4 410.9,482.2 411.3,484.3 411.6,486.4 412,488.4 412.3,490.1 412.7,491.4 413,492.2 413.4,492.5 413.7,492.3 414.1,491.5 414.4,490.4 414.8,488.9 415.1,487.3 415.5,485.7 415.8,484.3 416.2,483.1 416.5,482.4 416.9,482.1 417.2,482.4 417.6,483.2 417.9,484.5 418.3,486.1 418.6,488 419,490 419.3,492 419.7,493.7 420,495.2 420.4,496.2 420.7,496.8 421.1,496.8 421.4,496.4 421.8,495.5 422.1,494.3 422.5,492.8 422.8,491.3 423.2,489.9 423.5,488.7 423.9,487.8 424.2,487.3 424.6,487.3 424.9,487.9 425.3,488.9 425.6,490.3 426,491.9 426.3,493.8 426.7,495.7 427,497.5 427.4,499.1 427.7,500.3 428.1,501 428.4,501.3 428.8,501.1 429.1,500.5 429.5,499.5 429.8,498.3 430.2,496.9 430.5,495.5 430.9,494.3 431.2,493.3 431.6,492.7 431.9,492.5 432.3,492.8 432.6,493.5 433,494.6 433.3,496.1 433.7,497.8 434,499.6 434.4,501.4 434.7,503 435.1,504.3 435.4,505.2 435.8,505.7 436.1,505.8 436.5,505.4 436.8,504.7 437.2,503.6 437.5,502.4 437.9,501.1 438.2,499.9 438.6,498.9 438.9,498.1 439.3,497.8 439.6,497.8 440,498.3 440.3,499.2 440.7,500.4 441,502 441.4,503.6 441.7,505.3 442.1,506.9 442.4,508.3 442.8,509.3 443.1,510 443.5,510.3 443.8,510.2 444.2,509.7 444.5,508.8 444.9,507.8 445.2,506.6 445.6,505.4 445.9,504.4 446.3,503.6 446.6,503.1 447,502.9 447.3,503.2 447.7,503.9 448,504.9 448.4,506.2 448.7,507.7 449.1,509.3 449.4,510.8 449.8,512.2 450.1,513.4 450.5,514.2 450.8,514.7 451.2,514.8 451.5,514.5 451.9,513.9 452.2,513 452.6,512 452.9,510.8 453.3,509.7 453.6,508.8 454,508.1 454.3,507.8 454.7,507.8 455,508.3 455.4,509.1 455.7,510.2 456.1,511.6 456.4,513.2 456.8,514.8 457.1,516.3 457.5,517.6 457.8,518.7 458.2,519.4 458.5,519.7 458.9,519.6 459.2,519.1 459.6,518.3 459.9,517.2 460.3,516.1 460.6,514.9 461,513.8 461.3,513 461.7,512.4 462,512.2 462.4,512.5 462.7,513.1 463.1,514.1 463.4,515.4 463.8,517 464.1,518.6 464.5,520.2 464.8,521.6 465.2,522.9 465.5,523.7 465.9,524.2 466.2,524.3 466.6,524 466.9,523.3 467.3,522.3 467.6,521.2 468,519.9 468.3,518.7 468.7,517.7 469,517 469.4,516.6 469.7,516.6 470.1,517 470.4,517.9 470.8,519.1 471.1,520.5 471.5,522.1 471.8,523.8 472.2,525.3 472.5,526.7 472.9,527.7 473.2,528.4 473.6,528.7 473.9,528.5 474.3,528 474.6,527.1 475,526 475.3,524.8 475.7,523.6 476,522.5 476.4,521.7 476.7,521.1 477.1,520.9 477.4,521.2 477.8,521.8 478.1,522.9 478.5,524.2 478.8,525.7 479.2,527.3 479.5,528.9 479.9,530.4 480.2,531.5 480.6,532.4 480.9,532.8 481.3,532.9 481.6,532.6 482,531.9 482.3,531.1 482.7,530 483,529 483.4,528 483.7,527.2 484.1,526.7 484.4,526.5 484.8,526.6 485.1,527.1 485.5,527.9 485.8,529.1 486.2,530.4 486.5,531.8 486.9,533.3 487.2,534.6 487.6,535.8 487.9,536.7 488.3,537.4 488.6,537.7 489,537.7 489.3,537.4 489.7,536.9 490,536.2 490.4,535.5 490.7,534.8 491.1,534.2 491.4,533.7 491.8,533.5 492.1,533.6 492.5,533.9 492.8,534.5 493.2,535.4 493.5,536.4 493.9,537.6 494.2,538.7 494.6,539.8 494.9,540.8 495.3,541.7 495.6,542.3 496,542.7 496.3,542.8 496.7,542.6 497,542.3 497.4,541.8 497.7,541.1 498.1,540.5 498.4,539.8 498.8,539.3 499.1,539 499.5,538.8 499.8,538.9 500.2,539.1 500.5,539.7 500.9,540.3 501.2,541.2 501.6,542.1 501.9,543 502.3,543.8 502.6,544.5 503,545.1 503.3,545.5 503.7,545.6 504,545.5 504.4,545.3 504.7,544.8 505.1,544.3 505.4,543.7 505.8,543.1 506.1,542.5 506.5,542.1 506.8,541.9 507.2,541.8 507.5,542 507.9,542.3 508.2,542.9 508.6,543.5 508.9,544.3 509.3,545.1 509.6,545.9 510,546.6 510.3,547.2 510.7,547.6 511,547.8 511.4,547.9 511.7,547.7 512.1,547.5 512.4,547.1 512.8,546.6 513.1,546.1 513.5,545.6 513.8,545.2 514.2,545 514.5,544.9 514.9,545 515.2,545.2 515.6,545.6 515.9,546.1 516.3,546.8 516.6,547.5 517,548.2 517.3,548.8 517.7,549.4 518,549.8 518.4,550.1 518.7,550.3 519.1,550.3 519.4,550.1 519.8,549.8 520.1,549.5 520.5,549.1 520.8,548.7 521.2,548.4 521.5,548.1 521.9,548 522.2,548 522.6,548.1 522.9,548.4 523.3,548.8 523.6,549.3 524,549.9 524.3,550.5 524.7,551.1 525,551.7 525.4,552.1 525.7,552.5 526.1,552.7 526.4,552.8 526.8,552.7 527.1,552.5 527.5,552.2 527.8,551.9 528.2,551.5 528.5,551.2 528.9,550.9 529.2,550.8 529.6,550.7 529.9,550.8 530.3,551 530.6,551.3 531,551.7 531.3,552.2 531.7,552.7 532,553.3 532.4,553.8 532.7,554.3 533.1,554.6 533.4,554.9 533.8,555 534.1,555 534.5,554.9 534.8,554.6 535.2,554.4 535.5,554.1 535.9,553.7 536.2,553.5 536.6,553.3 536.9,553.2 537.3,553.2 537.6,553.3 538,553.5 538.3,553.8 538.7,554.2 539,554.7 539.4,555.2 539.7,555.7 540.1,556.1 540.4,556.5 540.8,556.7 541.1,556.9 541.5,556.9 541.8,556.9 542.2,556.7 542.5,556.5 542.9,556.2 543.2,556 543.6,555.7 543.9,555.5 544.3,555.4 544.6,555.3 545,555.4 545.3,555.5 545.7,555.8 546,556.1 546.4,556.5 546.7,556.9 547.1,557.3 547.4,557.7 547.8,558.1 548.1,558.3 548.5,558.5 548.8,558.6 549.2,558.6 549.5,558.5 549.9,558.4 550.2,558.1 550.6,557.9 550.9,557.6 551.3,557.4 551.6,557.2 552,557.1 552.3,557.1 552.7,557.2 553,557.4 553.4,557.6 553.7,558 554.1,558.3 554.4,558.7 554.8,559.1 555.1,559.5 555.5,559.8 555.8,560 556.2,560.1 556.5,560.1 556.9,560.1 557.2,559.9 557.6,559.8 557.9,559.5 558.3,559.3 558.6,559.1 559,558.9 559.3,558.7 559.7,558.7 560,558.7 560.4,558.8 560.7,559 561.1,559.3 561.4,559.6 561.8,560 562.1,560.3 562.5,560.6 562.8,560.9 563.2,561.2 563.5,561.3 563.9,561.4 564.2,561.4 564.6,561.3 564.9,561.1 565.3,560.9 565.6,560.7 566,560.5 566.3,560.3 566.7,560.1 567,560 567.4,560 567.7,560.1 568.1,560.2 568.4,560.4 568.8,560.7 569.1,561 569.5,561.3 569.8,561.6 570.2,561.9 570.5,562.1 570.9,562.3 571.2,562.4 571.6,562.4 571.9,562.4 572.3,562.2 572.6,562.1 573,561.9 573.3,561.7 573.7,561.5 574,561.3 574.4,561.2 574.7,561.1 575.1,561.1 575.4,561.2 575.8,561.4 576.1,561.6 576.5,561.8 576.8,562.1 577.2,562.4 577.5,562.7 577.9,562.9 578.2,563.1 578.6,563.2 578.9,563.3 579.3,563.2 579.6,563.2 580,563 580.3,562.8 580.7,562.6 581,562.4 581.4,562.3 581.7,562.1 582.1,562 582.4,562 582.8,562.1 583.1,562.2 583.5,562.3 583.8,562.6 584.2,562.8 584.5,563.1 584.9,563.3 585.2,563.5 585.6,563.7 585.9,563.8 586.3,563.9 586.6,563.9 587,563.9 587.3,563.8 587.7,563.6 588,563.4 588.4,563.3 588.7,563.1 589.1,562.9 589.4,562.8 589.8,562.8 590.1,562.8 590.5,562.8 590.8,563 591.2,563.1 591.5,563.3 591.9,563.6 592.2,563.8 592.6,564 592.9,564.2 593.3,564.3 593.6,564.4 594,564.4 594.3,564.4 594.7,564.3 595,564.2 595.4,564.1 595.7,563.9 596.1,563.7 596.4,563.6 596.8,563.5 597.1,563.4 597.5,563.4 597.8,563.4 598.2,563.5 598.5,563.6 598.9,563.8 599.2,563.9 599.6,564.1 599.9,564.3 600.3,564.5 600.6,564.6 601,564.7 601.3,564.8 601.7,564.8 602,564.7 602.4,564.7 602.7,564.5 603.1,564.4 603.4,564.2 603.8,564.1 604.1,563.9 604.5,563.8 604.8,563.8 605.2,563.8 605.5,563.8 605.9,563.9 606.2,564 606.6,564.2 606.9,564.4 607.3,564.6 607.6,564.8 608,564.9 608.3,565 608.7,565.1 609,565.1 609.4,565.1 609.7,565 610.1,564.9 610.4,564.8 610.8,564.6 611.1,564.4 611.5,564.3 611.8,564.2 612.2,564.1 612.5,564 612.9,564.1 613.2,564.1 613.6,564.2 613.9,564.4 614.3,564.5 614.6,564.7 615,564.9 615.3,565.1 615.7,565.2 616,565.3 616.4,565.3 616.7,565.3 617.1,565.3 617.4,565.2 617.8,565 618.1,564.9 618.5,564.7 618.8,564.5 619.2,564.4 619.5,564.3 619.9,564.2 620.2,564.2 620.6,564.3 620.9,564.3 621.3,564.5 621.6,564.6 622,564.8 622.3,565 622.7,565.1 623,565.3 623.4,565.4 623.7,565.5 624.1,565.5 624.4,565.4 624.8,565.4 625.1,565.2 625.5,565.1 625.8,564.9 626.2,564.7 626.5,564.6 626.9,564.5 627.2,564.4 627.6,564.3 627.9,564.3 628.3,564.4 628.6,564.5 629,564.6 629.3,564.8 629.7,565 630,565.1 630.4,565.3 630.7,565.4 631.1,565.5 631.4,565.6 631.8,565.5 632.1,565.5 632.5,565.4 632.8,565.2 633.2,565.1 633.5,564.9 633.9,564.7 634.2,564.6 634.6,564.5 634.9,564.4 635.3,564.4 635.6,564.4 636,564.5 636.3,564.6 636.7,564.8 637,564.9 637.4,565.1 637.7,565.3 638.1,565.4 638.4,565.5 638.8,565.6 639.1,565.6 639.5,565.5 639.8,565.5 640.2,565.3 640.5,565.2 640.9,565 641.2,564.8 641.6,564.7 641.9,564.5" fill="none" stroke="#6e6e96" stroke-width="1.45" stroke-linejoin="round"/>
<polyline points="60.3,104 60.3,105.5 60.2,107 60.2,108.5 60.2,110 60.3,111.6 60.3,113.1 60.3,114.6 60.4,116.1 60.4,117.6 60.5,119.1 60.6,120.6 60.7,122 60.8,123.5 60.9,125 61,126.5 61.1,128 61.2,129.5 61.4,131 61.5,132.5 61.7,133.9 61.8,135.4 62,136.9 62.1,138.4 62.3,139.9 62.5,141.3 62.7,142.8 62.8,144.3 63,145.8 63.2,147.3 63.4,148.7 63.5,150.2 63.7,151.7 63.9,153.2 64.1,154.7 64.3,156.2 64.5,157.7 64.6,159.1 64.8,160.6 65,162.1 65.2,163.6 65.4,165.1 65.6,166.6 65.8,168.1 66.1,169.6 66.3,171.1 66.5,172.5 66.7,174 67,175.5 67.2,177 67.5,178.5 67.8,179.9 68.1,181.4 68.4,182.9 68.7,184.3 69,185.8 69.4,187.3 69.7,188.7 70.1,190.2 70.5,191.6 70.9,193 71.3,194.5 71.7,195.9 72.1,197.3 72.6,198.8 73,200.2 73.5,201.6 74,203 74.5,204.4 75,205.8 75.5,207.2 76.1,208.6 76.6,210 77.2,211.3 77.8,212.7 78.4,214.1 79,215.4 79.6,216.8 80.3,218.1 80.9,219.4 81.6,220.8 82.3,222.1 83,223.4 83.7,224.7 84.5,226 85.2,227.3 86,228.6 86.7,229.9 87.5,231.1 88.3,232.4 89.1,233.7 89.9,234.9 90.8,236.2 91.6,237.4 92.5,238.6 93.3,239.9 94.2,241.1 95.1,242.3 96,243.5 96.9,244.7 97.8,245.9 98.7,247.1 99.6,248.3 100.5,249.5 101.4,250.7 102.4,251.9 103.3,253.1 104.3,254.3 105.2,255.4 106.1,256.6 107.1,257.8 108,259 109,260.1 109.9,261.3 110.9,262.5 111.8,263.6 112.8,264.8 113.7,266 114.7,267.1 115.6,268.3 116.5,269.5 117.5,270.6 118.4,271.8 119.3,273 120.3,274.1 121.2,275.3 122.1,276.5 123,277.6 124,278.8 124.9,280 125.8,281.2 126.7,282.4 127.6,283.6 128.5,284.7 129.4,285.9 130.3,287.1 131.2,288.3 132.1,289.6 132.9,290.8 133.8,292 134.7,293.2 135.6,294.4 136.4,295.7 137.3,296.9 138.1,298.1 139,299.4 139.9,300.6 140.7,301.9 141.6,303.1 142.4,304.3 143.3,305.6 144.2,306.8 145.1,308 145.9,309.2 146.8,310.5 147.7,311.7 148.6,312.8 149.6,314 150.5,315.2 151.4,316.4 152.4,317.5 153.4,318.7 154.3,319.8 155.3,320.9 156.3,322 157.3,323.1 158.3,324.2 159.3,325.3 160.4,326.4 161.4,327.4 162.5,328.5 163.5,329.5 164.6,330.6 165.6,331.6 166.7,332.7 167.8,333.7 168.8,334.7 169.9,335.8 171,336.8 172.1,337.8 173.2,338.8 174.3,339.9 175.4,340.9 176.5,341.9 177.6,342.9 178.7,343.9 179.9,344.9 181,345.9 182.1,346.9 183.2,347.9 184.4,348.8 185.5,349.8 186.6,350.8 187.8,351.8 188.9,352.8 190.1,353.7 191.2,354.7 192.4,355.7 193.5,356.6 194.7,357.6 195.8,358.6 197,359.5 198.1,360.5 199.3,361.4 200.5,362.4 201.6,363.3 202.8,364.3 204,365.2 205.1,366.2 206.3,367.1 207.5,368.1 208.6,369 209.8,369.9 211,370.9 212.1,371.8 213.3,372.7 214.5,373.7 215.7,374.6 216.8,375.5 218,376.4 219.2,377.4 220.3,378.3 221.5,379.2 222.7,380.2 223.9,381.1 225,382 226.2,383 227.4,383.9 228.5,384.8 229.7,385.8 230.9,386.7 232,387.6 233.2,388.6 234.4,389.5 235.5,390.5 236.7,391.4 237.8,392.4 239,393.3 240.2,394.3 241.3,395.2 242.5,396.1 243.6,397.1 244.8,398 246,399 247.1,399.9 248.3,400.8 249.5,401.8 250.6,402.7 251.8,403.6 253,404.6 254.2,405.5 255.4,406.4 256.5,407.3 257.7,408.2 258.9,409.1 260.1,410.1 261.3,411 262.5,411.9 263.7,412.8 264.8,413.7 266,414.6 267.2,415.5 268.4,416.4 269.6,417.3 270.8,418.1 272,419 273.2,419.9 274.4,420.8 275.6,421.7 276.8,422.6 278,423.5 279.3,424.4 280.5,425.2 281.7,426.1 282.9,427 284.1,427.9 285.3,428.8 286.5,429.7 287.7,430.5 288.9,431.4 290.2,432.3 291.4,433.2 292.6,434.1 293.8,434.9 295,435.8 296.3,436.7 297.5,437.6 298.7,438.4 299.9,439.3 301.1,440.2 302.4,441.1 303.6,441.9 304.8,442.8 306.1,443.6 307.3,444.5 308.5,445.4 309.8,446.2 311,447.1 312.3,447.9 313.5,448.7 314.7,449.6 316,450.4 317.2,451.3 318.5,452.1 319.7,452.9 321,453.7 322.3,454.5 323.5,455.3 324.8,456.1 326,456.9 327.3,457.7 328.6,458.5 329.9,459.3 331.1,460.1 332.4,460.9 333.7,461.6 335,462.4 336.3,463.1 337.6,463.9 338.9,464.6 340.2,465.4 341.4,466.1 342.7,466.8 344.1,467.5 345.4,468.3 346.7,469 348,469.7 349.3,470.4 350.6,471.1 351.9,471.8 353.2,472.6 354.5,473.3 355.9,474 357.2,474.7 358.5,475.4 359.8,476.1 361.1,476.9 362.4,477.6 363.8,478.3 365.1,479.1 366.4,479.8 367.7,480.6 369,481.3 370.3,482.1 371.6,482.8 373,483.6 374.3,484.4 375.6,485.2 376.9,486 378.2,486.8 379.5,487.6 380.8,488.3 382.1,489.1 383.5,489.7 384.8,490.3 386.1,490.9 387.5,491.3 388.8,491.6 390.2,491.8 391.6,491.9 393,491.9 394.5,491.7 395.9,491.3 397.4,490.9 398.8,490.4 400.3,490 401.7,489.8 403.2,489.7 404.6,489.9 405.9,490.3 407.3,490.7 408.7,491.2 410,491.8 411.4,492.3 412.8,492.9 414.1,493.6 415.5,494.2 416.9,494.9 418.2,495.6 419.6,496.2 420.9,497 422.3,497.7 423.6,498.4 425,499.1 426.3,499.8 427.7,500.5 429,501.2 430.3,502 431.7,502.6 433,503.3 434.3,504 435.7,504.6 437,505.3 438.3,505.9 439.7,506.5 441,507.1 442.3,507.8 443.6,508.4 445,509 446.3,509.6 447.6,510.2 449,510.9 450.3,511.5 451.6,512.2 453,512.8 454.3,513.5 455.6,514.1 456.9,514.8 458.2,515.5 459.6,516.2 460.9,516.9 462.2,517.6 463.5,518.3 464.8,519 466.1,519.8 467.4,520.5 468.7,521.2 469.9,522 471.2,522.7 472.5,523.5 473.8,524.3 475.1,525 476.3,525.8 477.6,526.6 478.9,527.3 480.2,528.1 481.5,528.8 482.8,529.6 484,530.3 485.3,531.1 486.6,531.8 487.9,532.5 489.3,533.3 490.6,534 491.9,534.7 493.2,535.4 494.6,536 495.9,536.7 497.2,537.4 498.6,538 499.9,538.7 501.3,539.3 502.7,540 504,540.6 505.4,541.2 506.8,541.8 508.1,542.4 509.5,543 510.9,543.6 512.3,544.1 513.7,544.7 515.1,545.2 516.5,545.8 517.9,546.3 519.3,546.8 520.7,547.3 522.1,547.8 523.6,548.3 525,548.7 526.4,549.2 527.8,549.7 529.3,550.1 530.7,550.5 532.1,551 533.6,551.4 535,551.8 536.4,552.2 537.9,552.5 539.3,552.9 540.8,553.3 542.2,553.6 543.7,554 545.1,554.3 546.6,554.6 548,554.9 549.5,555.3 551,555.6 552.4,555.8 553.9,556.1 555.4,556.4 556.8,556.7 558.3,556.9 559.8,557.2 561.3,557.4 562.7,557.7 564.2,557.9 565.7,558.1 567.2,558.3 568.7,558.5 570.1,558.7 571.6,558.9 573.1,559.1 574.6,559.3 576.1,559.5 577.6,559.6 579.1,559.8 580.6,560 582,560.1 583.5,560.2 585,560.4 586.5,560.5 588,560.6 589.5,560.8 591,560.9 592.5,561 594,561.1 595.5,561.2 597,561.3 598.5,561.4 600,561.5 601.5,561.6 603,561.7 604.5,561.7 606,561.8 607.5,561.9 609,561.9 610.5,562 612,562.1 613.5,562.1 615,562.2 616.5,562.2 618,562.3 619.5,562.3 621,562.3 622.5,562.4 624,562.4 625.5,562.5 627,562.5 628.5,562.5 630,562.5 631.5,562.6 633,562.6 634.5,562.6 636,562.6 637.5,562.7 639,562.7 640.5,562.7 642,562.7" fill="none" stroke="#cc1a1e" stroke-width="2.5" stroke-linejoin="round"/>
<polyline points="60.6,121 60.6,122.5 60.7,124 60.7,125.5 60.7,127 60.7,128.5 60.8,130 60.8,131.5 60.9,133.1 60.9,134.6 61,136.1 61.1,137.6 61.2,139.1 61.2,140.6 61.3,142 61.4,143.5 61.5,145 61.6,146.5 61.7,148 61.9,149.5 62,151 62.1,152.5 62.3,154 62.4,155.5 62.5,156.9 62.7,158.4 62.9,159.9 63,161.4 63.2,162.9 63.4,164.4 63.5,165.8 63.7,167.3 63.9,168.8 64.1,170.3 64.3,171.7 64.5,173.2 64.7,174.7 65,176.2 65.2,177.6 65.4,179.1 65.6,180.6 65.9,182.1 66.1,183.5 66.4,185 66.6,186.5 66.9,187.9 67.2,189.4 67.4,190.9 67.7,192.4 68,193.8 68.3,195.3 68.6,196.8 68.8,198.2 69.1,199.7 69.5,201.2 69.8,202.6 70.1,204.1 70.4,205.6 70.7,207 71,208.5 71.4,210 71.7,211.4 72.1,212.9 72.4,214.4 72.8,215.8 73.1,217.3 73.5,218.7 73.8,220.2 74.2,221.7 74.6,223.1 75,224.6 75.4,226 75.8,227.5 76.2,229 76.6,230.4 77,231.9 77.4,233.3 77.8,234.8 78.3,236.2 78.7,237.7 79.1,239.1 79.6,240.5 80,242 80.5,243.4 80.9,244.9 81.4,246.3 81.9,247.7 82.4,249.2 82.9,250.6 83.3,252 83.8,253.5 84.3,254.9 84.9,256.3 85.4,257.7 85.9,259.1 86.4,260.5 87,262 87.5,263.4 88.1,264.8 88.6,266.2 89.2,267.5 89.8,268.9 90.4,270.3 91,271.7 91.6,273.1 92.2,274.4 92.8,275.8 93.4,277.2 94.1,278.5 94.7,279.8 95.4,281.2 96.1,282.5 96.8,283.8 97.5,285.2 98.2,286.5 98.9,287.8 99.6,289.1 100.4,290.4 101.1,291.6 101.9,292.9 102.6,294.2 103.4,295.5 104.2,296.7 105,298 105.8,299.2 106.6,300.5 107.5,301.7 108.3,302.9 109.1,304.1 110,305.4 110.9,306.6 111.7,307.8 112.6,309 113.5,310.2 114.4,311.3 115.3,312.5 116.2,313.7 117.1,314.9 118.1,316 119,317.2 120,318.3 120.9,319.5 121.9,320.6 122.9,321.7 123.8,322.8 124.8,324 125.8,325.1 126.8,326.2 127.8,327.3 128.9,328.4 129.9,329.4 130.9,330.5 131.9,331.6 133,332.7 134,333.7 135.1,334.8 136.2,335.8 137.2,336.9 138.3,337.9 139.4,338.9 140.5,340 141.6,341 142.7,342 143.8,343 144.9,344 146,345 147.1,346 148.3,347 149.4,348 150.5,349 151.7,349.9 152.8,350.9 154,351.8 155.2,352.8 156.3,353.7 157.5,354.7 158.7,355.6 159.8,356.5 161,357.5 162.2,358.4 163.4,359.3 164.6,360.2 165.8,361.1 167,362 168.2,362.9 169.4,363.8 170.6,364.7 171.9,365.6 173.1,366.5 174.3,367.3 175.5,368.2 176.8,369.1 178,369.9 179.2,370.8 180.4,371.7 181.7,372.5 182.9,373.4 184.2,374.2 185.4,375.1 186.6,375.9 187.9,376.8 189.1,377.6 190.4,378.5 191.6,379.3 192.9,380.2 194.1,381 195.3,381.8 196.6,382.7 197.8,383.5 199.1,384.4 200.3,385.2 201.6,386.1 202.8,386.9 204,387.8 205.3,388.6 206.5,389.5 207.8,390.3 209,391.2 210.2,392 211.5,392.9 212.7,393.8 213.9,394.6 215.1,395.5 216.4,396.4 217.6,397.2 218.8,398.1 220,399 221.2,399.9 222.4,400.7 223.7,401.6 224.9,402.5 226.1,403.4 227.3,404.3 228.5,405.2 229.7,406 230.9,406.9 232.1,407.8 233.3,408.7 234.5,409.6 235.7,410.5 236.9,411.4 238.1,412.3 239.3,413.2 240.6,414 241.8,414.9 243,415.8 244.2,416.7 245.4,417.6 246.6,418.5 247.8,419.4 249,420.3 250.2,421.2 251.4,422.1 252.6,422.9 253.8,423.8 255,424.7 256.2,425.6 257.4,426.5 258.6,427.4 259.8,428.3 261,429.1 262.3,430 263.5,430.9 264.7,431.8 265.9,432.6 267.1,433.5 268.3,434.4 269.5,435.2 270.8,436.1 272,437 273.2,437.8 274.4,438.7 275.7,439.6 276.9,440.4 278.1,441.3 279.4,442.1 280.6,443 281.8,443.8 283.1,444.6 284.3,445.5 285.6,446.3 286.8,447.1 288.1,448 289.3,448.8 290.6,449.6 291.8,450.4 293.1,451.3 294.3,452.1 295.6,452.9 296.9,453.7 298.1,454.5 299.4,455.3 300.6,456.1 301.9,456.9 303.2,457.7 304.5,458.5 305.7,459.3 307,460.1 308.3,460.9 309.6,461.6 310.9,462.4 312.1,463.2 313.4,464 314.7,464.7 316,465.5 317.3,466.3 318.6,467 319.9,467.8 321.2,468.5 322.5,469.3 323.8,470 325.1,470.7 326.4,471.5 327.7,472.2 329,472.9 330.3,473.7 331.6,474.4 333,475.1 334.3,475.8 335.6,476.5 336.9,477.2 338.3,477.9 339.6,478.6 340.9,479.3 342.2,480 343.6,480.7 344.9,481.4 346.2,482.1 347.6,482.7 348.9,483.4 350.3,484.1 351.6,484.7 353,485.4 354.3,486 355.7,486.7 357,487.3 358.4,488 359.7,488.6 361.1,489.2 362.5,489.9 363.8,490.5 365.2,491.1 366.5,491.7 367.9,492.3 369.3,493 370.7,493.6 372,494.2 373.4,494.7 374.8,495.3 376.2,495.9 377.6,496.5 379,497.1 380.3,497.6 381.7,498.2 383.1,498.8 384.5,499.3 385.9,499.9 387.3,500.4 388.7,501 391.3,500.4 394.6,490.6 398.4,498 398.3,498.4 399.6,499 400.9,499.7 402.3,500.3 403.6,501 404.9,501.6 406.3,502.3 407.6,502.9 408.9,503.6 410.3,504.2 411.6,504.9 413,505.6 414.3,506.2 415.6,506.9 417,507.6 418.3,508.2 419.6,508.9 421,509.6 422.3,510.2 423.7,510.9 425,511.6 426.4,512.2 427.7,512.9 429,513.6 430.4,514.2 431.7,514.9 433.1,515.6 434.4,516.2 435.8,516.9 437.1,517.6 438.5,518.2 439.8,518.9 441.2,519.6 442.5,520.2 443.9,520.9 445.2,521.5 446.6,522.2 447.9,522.8 449.3,523.5 450.6,524.1 452,524.8 453.4,525.4 454.7,526.1 456.1,526.7 457.5,527.4 458.8,528 460.2,528.6 461.5,529.3 462.9,529.9 464.3,530.5 465.7,531.1 467,531.7 468.4,532.4 469.8,533 471.1,533.6 472.5,534.2 473.9,534.8 475.3,535.4 476.7,536 478,536.6 479.4,537.1 480.8,537.7 482.2,538.3 483.6,538.9 485,539.4 486.4,540 487.7,540.6 489.1,541.1 490.5,541.7 491.9,542.2 493.3,542.7 494.7,543.3 496.1,543.8 497.5,544.3 498.9,544.8 500.4,545.3 501.8,545.8 503.2,546.3 504.6,546.8 506,547.3 507.4,547.8 508.8,548.3 510.3,548.7 511.7,549.2 513.1,549.6 514.5,550.1 515.9,550.5 517.4,551 518.8,551.4 520.2,551.8 521.7,552.2 523.1,552.6 524.6,553 526,553.4 527.4,553.8 528.9,554.2 530.3,554.5 531.8,554.9 533.2,555.2 534.7,555.6 536.1,555.9 537.6,556.3 539,556.6 540.5,556.9 542,557.2 543.4,557.5 544.9,557.8 546.4,558.1 547.8,558.4 549.3,558.7 550.8,559 552.2,559.2 553.7,559.5 555.2,559.7 556.6,560 558.1,560.2 559.6,560.5 561.1,560.7 562.6,560.9 564,561.1 565.5,561.3 567,561.5 568.5,561.7 570,561.9 571.5,562.1 573,562.2 574.4,562.4 575.9,562.6 577.4,562.7 578.9,562.9 580.4,563 581.9,563.1 583.4,563.3 584.9,563.4 586.4,563.5 587.9,563.6 589.4,563.7 590.9,563.8 592.4,563.9 593.9,564 595.4,564.1 596.9,564.1 598.4,564.2 599.9,564.3 601.4,564.3 602.9,564.4 604.4,564.4 605.9,564.4 607.4,564.5 608.9,564.5 610.4,564.5 611.9,564.5 613.5,564.5 615,564.5 616.5,564.5 618,564.5 619.5,564.5 621,564.5 622.5,564.4 624,564.4 625.5,564.4 627,564.3 628.6,564.3 630.1,564.2 631.6,564.1 633.1,564.1 634.6,564 636.1,563.9 637.6,563.8 639.1,563.7 640.6,563.6 642.1,563.5" fill="none" stroke="#000" stroke-width="2.9" stroke-linejoin="round"/>
<polyline points="126.5,10.5 128.5,12.3 130.5,14.2 132.5,16.2 134.5,19.1 136.5,21.9 138.5,24.5 140.5,26.1 142.5,27.8 144.5,29.4 146.5,31.4 148.5,33.4 150.5,35.4 152.5,37.4 154.5,39.3 156.5,41.3 158.5,42.9 160.5,44.5 162.5,46.1 164.5,47.8 166.5,49.4 168.5,51 170.5,52.6 172.5,54.2 174.5,55.7 176.5,57.6 178.5,59.6 180.5,61.4 182.5,63.1 184.5,64.8 186.5,66.6 188.5,68.5 190.5,70.7 192.5,72.9 194.5,75 196.5,76.7 198.5,78.1 200.5,79.6 202.5,81 204.5,82.5 206.5,84.1 208.5,85.7 210.5,87.3 212.5,89.3 214.5,91.3 216.5,93.3 218.5,95.2 220.5,96.6 222.5,98 224.5,99.4 226.5,100.9 228.5,102.5 230.5,104.1 232.5,105.6 234.5,107 236.5,108.2 238.5,109.4 240.5,110.6 242.5,111.6 244.5,112.6 246.5,113.6 248.5,114.7 250.5,116.4 252.5,118.2 254.5,120 256.5,121.7 258.5,123.5 260.5,124.5 262.5,125.5 264.5,126.5 266.5,127.5 268.5,128.5 270.5,129.5 272.5,130.4 274.5,131.4 276.5,132.6 278.5,133.8 280.5,135 282.5,136.2 284.5,137.5 286.5,138.6 288.5,139.8 290.5,141 292.5,142.1 294.5,142.9 296.5,143.6 298.5,144.4" fill="none" stroke="#80809f" stroke-width="4.6" stroke-linecap="round" stroke-linejoin="round"/>
<polyline points="126.5,44.9 128.5,47.1 130.5,49.3 132.5,51.6 134.5,54.8 136.5,58.1 138.5,61.1 140.5,63.1 142.5,65.1 144.5,67.1 146.5,69.1 148.5,71.1 150.5,73.1 152.5,75.6 154.5,78 156.5,80.6 158.5,83.3 160.5,86 162.5,88.6 164.5,91 166.5,93.3 168.5,95.7 170.5,98 172.5,100.2 174.5,102.5 176.5,104.7 178.5,106.8 180.5,109.1 182.5,111.3 184.5,113.5 186.5,115.7 188.5,118.2 190.5,120.9 192.5,123.7 194.5,126.5 196.5,128.7 198.5,130.5 200.5,132.2 202.5,134 204.5,135.8 206.5,137.7 208.5,139.5 210.5,141.3 212.5,142.9 214.5,144.5 216.5,146.1 218.5,147.7 220.5,149.2 222.5,150.8 224.5,152.3 226.5,153.9 228.5,155.4 230.5,156.9 232.5,158.4 234.5,159.8 236.5,160.9 238.5,162 240.5,163.2 242.5,164.3 244.5,165.4 246.5,166.5 248.5,167.7 250.5,168.8 252.5,169.8 254.5,170.8 256.5,171.8 258.5,172.8 260.5,173.8 262.5,174.8 264.5,175.8 266.5,176.8 268.5,177.4 270.5,178 272.5,178.6 274.5,179.2 276.5,180.1 278.5,181.1 280.5,182.1 282.5,183.1 284.5,184.3 286.5,185.4 288.5,186.6 290.5,187.8 292.5,189 294.5,190.2 296.5,191.4 298.5,192.6" fill="none" stroke="#80809f" stroke-width="4.6" stroke-linecap="round" stroke-linejoin="round"/>
<polyline points="126,10 126.5,10.1 127.2,11.2 127.9,11.4 128.5,12.4 129,13.2 129.4,12.5 130.4,13.9 130.6,14.7 131.6,14.9 132.2,15 133,16.2 133.6,17.2 134.1,18.1 134.7,19.4 135.4,20.9 136.2,21.2 136.6,22.4 137.3,23.2 138,23.7 138.4,24.1 139,25.1 139.9,25.4 140.4,25.3 140.9,25.4 141.5,27.7 142.4,27.3 142.9,27.8 143.3,28.4 144.2,29 144.8,29.9 145.3,30 146,31.2 146.5,30.6 147.5,31.6 147.9,32.3 148.4,33.6 148.9,34.4 149.6,34.6 150.5,35.4 150.9,36 151.4,36.4 152.4,37.3 152.7,36.8 153.3,38.8 154.1,39.6 154.6,39.4 155.4,40.8 155.8,40.4 156.8,42.1 157.2,41.9 158.1,42.1 158.3,42.7 159.1,43 159.7,43.4 160.4,45.3 161.2,44.6 161.6,45.5 162.3,46.2 163.2,45.9 163.6,46.7 164.3,47.3 164.9,47.9 165.6,49.2 166.3,48.8 166.9,50.2 167.6,50.6 167.9,50.4 168.8,51.7 169.2,52.8 169.8,51.2 170.4,52.7 171.3,52 171.8,53.5 172.4,53.3 173.2,53.7 173.7,55.4 174.5,55.1 175.1,55.8 175.9,58.1 176.1,57.4 177,57.8 177.8,58.8 178.2,59.3 178.8,58.8 179.6,60.3 180.4,60.5 180.8,61.8 181.6,62.3 182.2,62.9 182.6,63 183.2,63.8 184,65.5 184.3,65.5 185.4,65.7 186,65.5 186.6,67.4 187.2,68.1 188.1,66.7 188.6,69.1 189.2,69.4 189.9,70 190.4,70.6 191.2,72.4 191.8,71.9 192.4,73.3 192.8,73.4 193.9,74.1 194.2,74.4 195.1,76.6 195.7,75.8 196.6,76 196.8,76.9 197.5,77.7 198.4,78.8 199,79.4 199.5,80.1 200.4,78.5 200.7,80.4 201.5,80 202.1,80.9 202.8,81.2 203.6,82 204.2,82.3 204.9,81.5 205.2,83.7 206.2,83.5 206.6,85.7 207.3,84 207.8,84.6 208.8,86.5 209.3,86 209.7,86.6 210.6,86.4 211,88.2 211.9,88.2 212.5,89.1 213.3,89.2 214,90.9 214.4,91.6 215.5,91.7 215.6,92.4 216.3,93.3 217.2,94.5 217.6,94.7 218.2,94.7 218.8,94.9 219.7,95.1 220.1,95.4 220.8,96.2 221.6,98.3 222.2,97.6 222.8,98.1 223.4,97.9 224,99.7 224.5,98.4 225.3,98.8 225.8,101.2 226.7,100.5 227.3,100.9 227.7,101.5 228.8,101.7 229.1,102.8 230.1,103.6 230.3,103.3 231.2,103.6 231.6,104.3 232.4,106.5 232.8,105.3 233.4,106.2 234.2,107.8 234.8,106.6 235.5,107.6 236.1,107.2 236.7,109.2 237.3,108.2 237.9,108.6 238.7,109.9 239.1,109.8 239.9,110.1 240.5,110.6 241.1,110 241.8,109.8 242.4,111.5 243,111.2 243.7,112.3 244.2,112.7 245,113.3 245.6,113.4 246.3,113 246.6,114.1 247.6,114.5 248.2,114.6 248.8,114.8 249.2,114.3 250,116.9 250.6,117.8 251.1,116.9 251.8,117.9 252.4,118.9 253.2,119.2 253.7,119.5 254.4,119.1 254.7,120.3 255.4,120.6 256.3,119.8 256.8,122.3 257.4,123.1 258.3,123.5 258.7,124.4 259.3,124.4 259.9,124.8 260.7,124.4 261,124.8 261.9,125 262.3,126.2 262.8,126 263.7,126.8 264.2,126 264.7,127.5 265.6,127.1 266.1,127.5 266.7,127.3 267.3,128.6 268.2,129.1 268.8,128.6 269.2,128.7 269.5,129.4 270.3,128.3 271.1,129.6 271.5,129.8 272.4,130 272.8,130.6 273.2,130.7 274.5,130.4 274.8,132.2 275.3,133.4 276,133.1 276.8,132.2 276.9,133.4 277.8,133.8 278.1,134.2 278.9,134.4 279.3,134 280.4,135.8 280.6,136.7 281.4,134.9 282.1,136 282.6,135.2 283.2,136.5 283.9,136.6 284.7,138.9 285.3,138.3 285.6,138.1 286.3,138.6 287.2,138 287.6,139.2 288.1,140.2 288.7,140.7 289.3,141.5 289.6,140.3 290.6,140.5 290.9,141.9 291.6,142.4 292,142.4 292.9,142 293.8,142.8 294,142.6 294.8,142.2 295.4,142.7 296,141.9 296.7,144 297.2,143.9 297.6,144.5 298.4,144.3 299,143.5 299.5,143.9 300.2,145 300.7,144.9 301.8,145.7 301.9,145.2 302.5,147 303,146.6 303.6,146.5 304.3,146.8 305.1,145.9 305.4,148.3 306,148.7 306.8,147.7 307.5,149.8 308.4,148.5 308.6,150.1 309.1,150 309.8,148.3 310.4,150.5 311.1,151.6 311.6,153.3 312,151.6 312.9,151.7 313.3,151.7 313.8,152.7 314.4,152.9 315,153 315.9,153.8 316.3,156.6 317,155.2 317.7,156.4 318.2,154.8 318.9,154.3 319.3,155.3 320.1,153 320.7,156 321.1,155.5 322,157.7 322.6,155.7 322.9,156.6 323.5,158.2 324.1,157.8 324.7,157.9 325.4,157.1 326.1,157.2 326.8,158.4 327.1,159.1 328.1,159.5 328.2,161 329.1,159.7 329.7,158.9 329.8,159.1 330.9,160.2 331.4,159.2 331.7,158.4 332.6,159.9 333.3,161.6 333.9,160.4 334.3,162.4 334.8,161.1 335.6,163.4 336.2,161.1 336.8,162.2 337.3,166.1 338,163.3 338.3,164.4 339.2,164.5 339.7,164.2 340.1,166.3 340.8,164.6 341.7,169.5 342.1,165.1 343,167.8 343.2,168.7 344.1,169.6 344.3,168.8 345.1,168.6 345.6,168 346.5,169.8 346.9,167.9 347.5,171.8 348.1,171.9 348.7,168.6 349.3,166.8 350.2,171.9 350.8,169.2 351.2,170.1 351.4,168.8 352.3,170 352.9,172.6 353.6,174.8 354.2,171.6 354.9,171.5 355.7,174.2 356,178.3 356.4,179 357.1,174.9 357.9,174.3 358.2,174.3 359,175.2 359.7,177.7 360.2,176.7 360.6,175.7 361.3,179.4 362,176 362.5,175.9 362.9,173.1 363.9,178 364.6,175.7 364.9,179.5 365.8,181.4 366.3,179.9 366.8,178.6 367.4,178.2 367.8,185.7 368.6,179.1 369.1,182.1 369.6,179.5 370.2,182.7 371.1,180.8 371.3,180.5 371.8,179.4 372.7,181.4 373.4,180.5 374,182.4 374.6,180.8 375.1,184.4 375.9,185.2 376.4,186.5 377,185.4 377.3,182.3 378.3,181.6 378.7,197.4 379.3,184.9 379.9,185.5 380.4,184.1 381.4,180.7 381.9,185 382.3,187.6 383.1,183.8 383.8,187.7 383.9,188.3 384.7,184.7 385.2,187.5 386,188.9 386.6,187.7 387.1,178.9 388,182.8 388.7,184.2 389,184.3 389.7,186.7 390.2,184.3 390.8,187.8 391.3,185.5 392,189.7 392.8,187.9 393.1,186.9 394,187.5 394.6,187.4 394.8,186.8 395.5,182.2 396.4,190.1 396.7,189.6 397.3,187 397.7,186.8 398.6,187.7 399.3,189.6 399.7,182.4 400.3,200.6 401,188.1 401.8,188.3 402.1,193.3 403.2,182.8 403.5,190.2 403.8,185 404.7,187.6 405.1,189.8 405.7,184.4 406.3,184.5 406.7,182.8 407.9,189.6 408.3,184.2 408.7,195.8 409.4,186.6 409.8,192.4 410.5,194.1 410.9,195.3 411.7,193 412.5,187.1 413.4,200.2 413.8,191 414,198.6 414.4,197.6 415.6,205.6 416.2,192.6 416.4,201.6 416.9,195.6 417.8,196.8 418.6,196.3 418.9,196.9 419.4,196.3 420.2,196.9 420.8,204.4 421.2,195.4 422,204.6 422.8,196.9 423.3,202.7 423.9,201.5 424.1,198.6 425,199.6 425.6,198 426,196.6 426.9,205.5 427.2,201.6 427.6,209.2 428.4,214.1 429.2,204.7 429.8,198.5 430.4,205.6 431,214.6 431.8,197.7 432.2,202 432.7,201.9 433.5,204.5 434,204.5 435,206.8 435,212.6 435.7,204 436.3,206.2 437.2,207.3 437.7,210.5 438.3,214.9 439,220.4 439.5,216.2 440,214.6 440.5,205.2 441.2,208.7 442,203 442.5,218.8 443.1,211.7 443.7,223.5 444.4,211.7 445,204.3 445.4,208.9 445.8,207.6 446.7,213.8 447.2,209.1 448,204.3 448.6,204 449,209.9 449.8,205 450.2,213.9 451.1,208.6 451.3,209.1 452,212.6 452.3,205.6 453.1,202.3 453.9,210.7 454.5,208.8 455,206.9 455.6,204.2 456.1,198.3 456.7,206.2 457.2,208.2 457.9,211.7 458.5,215.2 459.1,213.9 459.4,209.3 460.2,203.7 461,203.4 461.6,203.5 462.4,204.7 462.8,210.9 463.3,219.1 463.9,208.8 464.5,211.4 465.1,208 465.8,208.4 466.4,217.7 467.1,220 467.5,218.7 468.1,201 468.7,210.9 469.2,216.1 469.9,215.8 470.6,211.4 471.4,221.7 471.9,220.2 472.2,207.6 472.9,213.9 473.7,217.1 474.1,208.9 474.6,210.7 475.5,217.6 475.8,212.4 476.8,220.9 477.2,215.9 477.9,224.9 478.6,220.2 479,219.2 479.5,220.6 480.3,224.9 480.4,222.8 481.3,220.6 482.1,222.1 482.3,218 483.3,225.9 484.1,216.8 484.3,217.4 485.2,216.5 485.8,218.4 486.4,229 486.6,236.2 487.7,228.5 488.1,223.4 488.4,233.5 489.1,225.4 489.8,218.9 490.3,217.1 491.1,225.3 491.6,227.8 492.3,229 492.9,220.8 493.5,217.8 493.8,219.9 494.5,216.5 495.3,226.5 495.9,217.5 496.7,224 497,219.5 497.7,232.9 498.1,220.4 498.8,222.7 499.3,225.5 499.9,238.2 500.7,229.4 501.2,237.4 501.9,225.3 502.3,213.3 502.8,223.8 503.5,229 504.2,217.7 504.9,232.3 505.2,235.6 506.1,232.6 506.7,226.9 507.2,231.4 507.9,228.8 508.4,224.6 508.9,233.8 509.4,240.4 510.5,224.2 510.6,230 511.6,231.1 512,225.1 512.5,223.4 513.3,215.8 514,227.5 514.6,231.9 514.9,227.2 515.6,229.9 516.2,237 516.6,228.6 517.3,227.3 518.3,229.6 518.6,238.4 519.2,243.6 520,232.1 520.2,230.2 521.2,234.5 521.7,228.3 522.1,238 522.8,221.8 523.3,228.2 524.2,225.7 524.5,218.5 525.2,233.3 525.8,224 526.1,242.4 527,234.2 527.4,236.6 528.4,225.8 528.7,226.1 529.4,227.7 530.1,222.9 530.7,226.7 531.2,236 531.9,225.9 532.5,224.2 533.2,234.1 533.4,227.8 534.6,232.8 534.7,231.9 535.2,232.1 536,229.2 536.5,225.9 537.1,228.4 537.8,235.7 538.4,236.2 539.1,224.7 539.4,233.3 540.2,238 540.7,239.7 541.1,232 541.8,237.9 542.5,223.5 543.2,217.2 543.8,229.2 544.2,227.5 544.9,251.3 545.7,242.9 546.4,235.8 546.6,232.5 547.3,231.2 547.9,236.3 548.5,233.2 548.9,225.8 549.7,234.2 550.7,227.2 551.1,225.3 551.7,231.7 552.1,245.3 552.7,241.5 553.7,238.1 554,230.1 554.5,234.1 555.4,235.1 555.9,234.9 556.4,233.6 556.8,229.8 557.6,243.3 558.2,231 558.9,240.8 559.1,232.5 559.9,241.2 560.2,243.9 561.3,236.7 561.8,252.8 562.5,235.1 563.2,245.2 563.8,230.9 564.1,241.7 564.9,234.2 565.5,228.9 566.2,241.1 566.7,240.7 567.4,249.4 567.5,248.3 568.5,235.4 569,228.3 569.5,236.5 570.2,230.8 570.6,257.2 571.5,239.5 571.8,236.5 572.5,227.5" fill="none" stroke="none" marker-start="url(#mg)" marker-mid="url(#mg)" marker-end="url(#mg)"/>
<polyline points="126,44.4 126.6,45.8 127.1,45.3 127.6,45.8 128.3,47.3 128.9,48.2 129.6,48.3 130.4,50.1 131,49.9 131.6,50.9 132.4,51.5 133,53.3 133.3,52.4 133.9,53.8 134.7,55.1 135.2,56.2 135.8,58.1 136.9,57.7 137.1,59.3 138,60.7 138.5,61.8 138.9,62 139.6,62.9 140.2,63 141.1,62.7 141.7,65.2 142.2,64.5 142.8,64.8 143.5,65.9 144.1,66.5 144.7,67.1 145.4,67.6 145.7,68.9 146.6,69 147.3,69.6 148,70.5 148.6,71.6 149,71.3 149.6,71.9 150.3,73 150.9,73.4 151.3,74.6 152.3,75.4 152.8,75.8 153.4,76.5 154.3,78.2 154.7,78.2 155.4,79.4 156.3,79.6 156.9,80.7 157.2,82.3 158,83.8 158.3,83.3 159.1,84.4 159.8,84.4 160.6,85.1 161,88.3 161.6,87.1 162.5,88.1 163,89.5 163.5,90.3 164.5,90.4 164.7,92.2 165.5,92.3 166.1,92.8 166.7,94.2 167.5,94.4 168,95 168.5,95.1 169.1,97.1 169.8,96.9 170.6,97.5 171.3,99.1 172,99.1 172.4,100.3 173.1,101.1 174.2,101.2 174.5,102.2 175,101.6 175.6,104.6 176.4,104.4 176.8,104.9 177.9,105.8 178.5,107 179.1,107.9 179.6,107.9 180.1,108.9 180.5,108.2 181.2,110.2 182.1,111.3 182.6,112.6 183.5,112.9 184,113.5 184.7,113.2 185.4,113.5 185.7,115.1 186.6,115.4 187.3,116.2 188,117.4 188.6,118 189.2,119.8 190,120.1 190.6,121.5 191.1,121.9 191.8,121.5 192.3,122.9 193.1,125.8 193.7,124.5 194,127.5 195,127.3 195.9,126.6 196.2,127.3 196.9,130.6 197.5,130.4 198,130.7 198.8,132.1 199.4,131.6 200.2,131.7 200.9,133.3 201.6,133.5 202.2,133.1 202.8,134.3 203.4,134.4 204.2,135 204.7,135.7 205.3,136.5 206,137 206.7,138.8 207.4,139.5 208.4,139.6 208.8,139.8 208.8,139.9 210.1,141.4 210.6,142 211.2,142.5 211.7,143.1 212.4,143.1 212.9,143.7 213.6,143.2 214.5,144.6 215.1,144.2 215.6,146 216.4,146.7 217,146.1 217.7,147.6 218.3,147.4 219,148 219.6,147.6 220,149.2 220.9,148.5 221.4,151.4 221.9,151 222.9,152.7 223.5,151.9 223.8,152.8 224.8,153.4 225.2,153.1 226,154.5 226.7,154.2 227.3,154.9 227.9,156.4 228.6,156 229,154.8 229.7,155.8 230.3,157.4 230.9,157.8 231.6,157.3 232.3,157.5 232.8,158 233.7,159.5 234.3,160.3 235,159 235.5,160.2 236.2,159.4 236.9,161.1 237.3,160.7 237.9,161.2 238.9,163.4 239.1,161.7 240,161.9 240.4,162.3 241.3,163.6 241.9,162.6 242.2,163.9 243,163.6 243.9,164.2 244.5,165.1 244.8,166 245.5,164.9 246.3,166.2 246.7,166.9 247.3,165.5 247.9,167 248.7,167 249.3,167.7 250.2,167.7 250.8,168.3 251.5,170.2 251.8,169.5 252.4,170.2 252.9,171 253.9,170.9 254.4,169.9 255,172.2 255.5,171.1 256.1,172.4 257,172.5 257.6,171.6 258.2,172 258.3,174 259.3,172.1 259.8,173.9 260.5,173.9 261.3,173.6 261.7,173.8 262.3,173.5 262.9,175.7 263.6,174.4 264.2,175.5 264.9,176.8 265.6,174.8 266.2,177.6 266.6,176.6 267.3,177.8 268,177 268.6,176.8 269.3,177.6 269.6,177.8 270.6,177.5 270.9,176.8 271.7,177.6 272.3,179 273,179.4 273.5,179 274.2,179.1 274.8,178.9 275.6,178.2 276,177.8 276.2,178.9 277.3,181.5 277.6,180.6 278.3,181.7 278.9,182.1 279.8,181.8 280.2,182.2 280.8,181.7 281.3,182.1 282.2,183.7 282.5,182.8 283.6,184 283.8,184.9 284.7,184.5 285,185.3 285.7,186 286.3,186.2 287,185.3 287.4,185.1 288.1,187 288.5,185.5 289.3,187.4 290,189.1 290.7,188 291.3,189.1 291.8,189 292.6,187.9 293,189.5 293.2,189.4 294.2,188.7 294.9,190.2 295.2,189.1 296,190.1 296.5,191.2 296.9,193.4 297.8,192.4 298.3,191.6 299,192 299.6,193.8 300.3,194.3 300.9,192.7 301.4,193 302.2,194.1 302.9,192.6 303.3,195.1 303.8,197 304.4,195.5 305,196.6 305.6,195.7 306.4,196.5 306.9,196.8 307.4,196.5 307.9,197.8 308.2,197.9 309,198.2 309.7,197.1 310.4,200.8 311.2,199.5 311.6,199.8 312,201 312.7,199.3 313.3,199.8 314,201 315.1,203.1 315.1,202.2 315.8,198.3 316.7,203.9 316.6,201.7 317.7,202.4 318.3,202.6 318.9,203.6 319.2,204.3 320.1,201.5 320.6,203.6 321.1,203.7 321.7,206.6 322.3,202.5 323.1,203.5 323.5,204.3 324.2,203.4 324.8,208.3 325.2,206.5 326,204.3 326.7,205.6 327.1,206.3 327.9,205.7 328.3,206.3 329.1,204.5 329.6,207.2 330.3,208 330.8,206.1 331.5,205.7 331.9,206.6 332.5,207.2 333.4,208.3 333.7,208.8 334.2,206 335.2,209.8 335.6,209.7 336.3,209.2 337.2,208 337.3,209.2 338,207.4 339,210.4 339.3,208.7 339.8,211 340.4,213.2 341,212.9 341.7,211.7 342.1,211.2 342.8,209.9 343.2,208.5 343.8,213.5 344.4,215 345.2,211.5 345.8,215.5 346.2,212.2 347,214.5 347.6,216.4 348.1,214.1 348.7,218.3 349.6,218.9 350.1,218.1 350.4,216.3 351.2,218.6 351.7,217.9 352.6,217.7 352.9,220 353.8,220.9 354.1,217.5 354.9,222.9 355.2,219.6 356.2,220 356.4,224.1 357.4,221.6 357.7,222.8 358.2,218.6 358.9,223.7 359.4,222.5 360.1,221.8 361,223.2 361.4,220.9 361.9,224.7 362.6,227.4 363.2,225.8 363.8,232 364.2,224.5 364.8,227.4 365.3,227.9 366.3,232.2 367.1,228.4 367.5,226.4 368,226.8 368.6,234.7 369,231.3 369.8,231.1 370.4,233.1 371,231.6 371.6,231.8 372.5,229.8 372.7,231.1 373.4,235.2 373.8,232.2 374.7,234.6 375.2,233.7 375.9,236.2 376.4,233.6 377,236.7 377.3,231.3 378.4,232.7 378.7,232.3 379.5,231.4 379.9,235.5 380.6,236.3 381.2,241.2 382,235.4 382.4,234.4 382.6,236.4 383.4,238.7 384.4,236.5 384.9,236 385,242.5 386.1,242.1 386.5,238 386.9,241.8 387.7,235.3 388.4,234 388.9,237.1 389.5,236 390.2,249.5 390.8,236.3 391.3,239.3 392.2,237.3 392.7,235.4 393,236.6 393.9,229.6 394.5,236.7 395,232.5 395.3,231.4 396.2,230.7 396.8,233.1 397.3,230.7 397.8,234 398.5,231.9 399.1,234.8 399.6,231.2 400.1,232 400.9,233.4 401.7,231.5 402.5,228.1 402.8,233.1 403.4,229.4 404.2,230.1 404.4,236.9 405.3,228.4 405.6,236.5 406.2,235.2 407,236.1 407.5,232.8 408.1,237.5 408.8,235.3 409.3,238.7 409.8,239.5 410.6,238.5 411.3,245.3 411.7,239.9 412.5,246.3 412.8,244.2 413.7,241.4 414.2,244.1 414.6,240.2 415.3,246.8 415.8,252.1 416.6,244 417.1,246.6 417.7,256.2 418.4,243.4 418.8,248.3 419.5,247.6 420.1,240.5 420.8,246 421.3,246.9 421.6,243.5 422.5,245.6 423.2,250.4 423.9,244.2 424.2,251.9 424.9,252 425.7,249.4 426.1,248.4 426.9,250.6 427.5,253.3 428.1,251.6 428.4,253.4 429.4,247.4 430,247.3 430.4,246.5 431.2,246.7 431.5,244.7 431.9,256.8 433.1,253.1 433.3,258.4 433.9,249.3 434.6,250.6 435.3,251.8 435.6,250.2 436.6,250 437,255.4 437.6,257.3 438.2,249.8 438.6,257.9 439.5,259.2 440.2,255.6 440.4,257.9 441.4,252.1 441.8,261.7 442.4,256.7 443.1,255.8 443.4,251.6 444.3,262 444.7,250.2 445.4,263.6 446,256.5 446.7,261.3 447.2,256.1 447.5,257.2 448.1,264.5 448.9,253.4 449.5,264 450.2,257.7 450.8,258.8 451.5,256.9 451.9,268 452.4,261.5 453.2,266.6 453.8,262.3 454.4,251.5 454.9,270.2 455.5,262.4 456.3,262.9 456.9,263.6 457.4,263 457.9,273 458.8,266.3 459.1,269.8 459.8,257.2 460.5,276.5 460.9,260.1 461.7,266.2 462.2,267.1 462.6,272 463.4,265.1 463.9,274 464.5,271.1 465.2,269.3 465.8,275.1 466.6,261.2 467.1,282.3 467.6,271.3 468.3,274.7 468.6,266 469.5,262.5 470.2,270.9 470.8,279.3 471.2,274.6 471.8,264.7 472.4,276.4 473.1,278.6 473.5,280.6 474.1,275.5 474.6,283.2 475.4,276.9 475.9,281.4 476.9,270.7 477,268.3 477.9,273.8 478.4,277 478.9,269.8 479.5,276.9 480.1,268.7 480.7,279.6 481.1,283.9 481.9,279.2 482.7,282.3 483.4,273.3 483.7,274.7 484.2,278.7 484.8,283 485.6,267.7 486.3,279.5 487.1,266.2 487.5,276.3 488.1,274 488.5,280 489.4,280.9 489.4,283.4 490.2,283.6 491.1,268 491.6,273.6 492.1,292.1 492.8,289.6 493.5,272.2 494,276.3 494.7,282.4 495.5,275.8 495.9,273.9 496.2,280.3 497.2,284.5 497.4,281.9 498.2,282.7 498.6,286.3 499.2,289.5 499.9,281.2 500.7,292.7 501,280.7 501.8,295.4 502.1,284.1 503,281.3 503.7,288.6 504,283.3 504.8,280.8 505.5,283.7 506,285 506.7,280.7 507.5,286.5 508.1,282.9 508.4,279.8 509.2,277.5 509.7,290.1 510.2,285.3 510.8,292.6 511.6,289 511.9,299.1 512.4,280.1 513.3,289.7 513.8,293.6 514.3,281.3 514.7,284.3 515.7,292.1 516,289.2 516.9,289.2 517.4,301.7 517.8,295.7 518.7,284.1 519.4,284.5 519.9,291.3 520.4,291.7 521.2,293.7 521.5,281.9 522.3,290.6 522.8,289.6 523.4,278.4 524.3,294.7 524.4,289.6 525.2,292.9 526,287.7 526.6,298.9 527.1,285 527.7,290.4 528.2,293.9 528.9,278.8 529.1,284.2 529.9,276.2 530.6,287.7 531,292.1 531.4,279.9 532.4,286.5 533.1,282.4 533.7,295.1 534.4,289.2 534.8,285.5 535.4,298.7 536.1,302.6 536.6,284.1 537.1,297.2 537.7,277.8 538.3,290.5 539.1,294.4 539.3,291.3 540.3,294.2 540.5,275.4 541.5,282.6 542.1,288 542.6,286.4 543.4,274.5 543.7,285.9 544.3,285.4 544.9,282 545.7,276.1 546.3,293.1 546.9,291.6 547.2,278.4 547.8,281.7 548.6,281.5 549.1,286.8 549.8,280.8 550.6,283.1 550.9,296.7 551.7,300.9 552.4,288.2 552.8,294.7 553.3,289.9 553.7,285.1 554.6,289.1 555,282.8 555.7,282.5 556.4,292.3 556.9,278.6 557.5,293.2 558.3,294.8 558.7,294.4 559.5,326.2 559.8,294.9 560.5,300.5 561.1,296.6 561.7,294.2 562.5,300.5 563.1,291.1 563.5,289.8 564.2,289.3 564.5,298.7 565.3,283.1 565.9,293 566.4,291.1 567.4,280.2 568,280.7 568.3,288.4 569,289.5 569.6,296.3 570.2,292 570.8,282.7 571.2,284.4 571.9,298.6 572.6,301.6" fill="none" stroke="none" marker-start="url(#mg)" marker-mid="url(#mg)" marker-end="url(#mg)"/>
<polyline points="81,126.2 83,128 85,129.9 87,131.7 89,133.8 91,136.2 93,138.6 95,140.9 97,142.9 99,144.9 101,146.9 103,148.9 105,150.9 107,152.9 109,154.9 111,156.9 113,158.9 115,160.9 117,162.8 119,164.7 121,166.4 123,168 125,169.6 127,171 129,172.3 131,173.8 133,175.4 135,177.1 137,178.8 139,180.5 141,182.2 143,183.9 145,185.6 147,187.4 149,189.1 151,190.9 153,192.6 155,194.4 157,196.1 159,197.8 161,199.4 163,201.1 165,202.8 167,204.5 169,206.2 171,207.7 173,209.2 175,210.8 177,212.3 179,213.8 181,215.2 183,216.6 185,218 187,219.4 189,220.7 191,222.1 193,223.1 195,224.1 197,225 199,226" fill="none" stroke="#80ff20" stroke-width="4.6" stroke-linecap="round" stroke-linejoin="round"/>
<polyline points="80.6,126.5 81.1,126.7 81.6,127 82.1,127 82.9,127.9 83.6,128.4 83.9,130.4 84.7,130.5 85.5,129.8 85.8,131.1 86.4,131 87,132.2 87.6,132.3 88.1,133.2 89,133.1 89.5,134.8 90,135.5 90.6,135.9 91.2,137.4 92,137.3 92.3,138.5 93.2,139.5 93.6,139.8 94.5,141 95,141.8 95.6,141.3 96.3,141.5 96.6,143.3 97.4,145 98,143.3 98.6,144 99.1,145.4 99.8,145.3 100.5,146.2 100.9,148 101.6,147.5 102.3,148.2 102.8,148.9 103.6,150.1 104,150.6 104.7,151.3 105.2,150.2 105.8,151.1 106.4,152.2 107.3,154.1 107.6,153.4 108.3,154 109.2,154.5 109.5,155.4 110.3,158 110.8,157.2 111.3,157.5 112.1,157.5 112.8,157.4 113.1,158.8 113.7,160.4 114.4,160.2 115.1,160.2 115.5,162.8 116.4,162 116.8,163.6 117.6,163.3 118.3,163.7 118.8,165.3 119.3,166.3 119.9,165.2 120.6,165.7 121.3,167.1 121.9,168.2 122.6,167.6 123.4,167.6 123.5,169.5 124.5,168.8 125.2,169.4 125.7,169.6 126.1,169.6 126.6,170.3 127.5,171.6 128,171.1 128.8,171.2 129.3,172.6 129.8,173.5 130.6,173.9 131.4,175 131.9,174.4 132.6,175.8 133,175.4 133.6,176 134.3,176.5 134.7,178.8 135.4,177.2 136,178.5 136.7,178.4 137.5,178.9 137.9,180 138.8,180.3 139.5,181.3 139.9,180.5 140.5,181.2 141.2,182.3 141.8,181.9 142.2,182.2 143,182.4 143.9,185.2 144.5,186.1 145,185.8 145.5,186.9 146.2,185.7 146.9,186.4 147.5,187.7 148.1,187.4 148.4,189.6 149.5,189.3 149.9,191.3 150.4,189.8 151.3,192 151.9,190.2 152.4,191.2 153.1,193.4 153.7,193 154.5,194.4 154.9,193.3 155.7,195.8 156.2,196.7 156.6,195.9 157.4,196.4 158.3,196.9 158.6,197.9 159.1,197.3 160,198.8 160.9,199.4 161.4,200.2 161.7,199.3 162.5,200.2 163.1,200.9 163.6,203 164.4,202.8 165,203.8 165.6,202.9 166.5,204 167.1,204.1 167.6,203.8 168.3,204.8 168.8,205 169.7,206.6 170.1,206.9 171,207.1 171.6,208.2 172.1,208.1 172.5,208.4 173.4,210 173.9,211.2 174.5,210.4 175.4,210.2 176,210.3 176.7,212 177.4,211.6 177.9,211.5 178.4,213.5 179.2,212.9 179.7,213.8 180.4,214.7 180.7,215.2 181.5,216.2 182.5,215.6 183,217.1 183.6,217.3 184.4,218.6 184.8,217.5 185.4,218.7 186.2,219.5 186.9,217.9 187.5,219.6 187.9,221.6 188.9,220.3 189.4,220.6 189.9,222.1 190.8,222.6 191.4,224.5 192,222 192.9,221.5 193.3,223 194.1,223.6 194.5,222.6 195.3,224.3 196,226.6 196.4,224.8 197,224.1 197.7,224.5 198.5,224.7 199.1,225.6 199.5,228.9 200.5,226.9 201.1,225.5 201.8,227.7 202.3,228.2 202.9,227.3 203.7,229.8 204.4,229.5 204.9,230.2 205.6,230.6 206.3,230.9 207,233.9 207.4,232.9 208.3,234 208.9,233.9 209.5,234.1 210.2,233 210.8,234.2 211.5,232.2 211.9,236.6 212.6,235.6 213.5,236.6 214,235.4 214.9,236.3 215.5,240.4 216,240.9 216.5,239.9 217.1,237.9 218.1,240.7 218.7,241.9 219.2,239.6 219.7,240.5 220.4,241.6 221.2,242.1 221.8,240.1 222.8,243.6 222.9,242.4 223.8,245.8 224.2,242.1 224.8,245.7 225.4,245.2 226.3,246.2 226.9,244.5 227.4,246.7 228.1,247.5 228.6,245.1 229.4,248 229.9,249.9 230.5,246.9 231.3,251.8 232.2,249.2 232.4,251.1 233.2,250.1 233.9,249.9 234.5,253.3 235.2,247.2 235.8,250.4 236.2,249.8 236.8,250 237.4,251.9 238.3,254.2 238.8,252.9 239.4,249.9 239.9,256.6 240.7,255 241.3,254.5 241.9,253.3 242.5,254.4 243.4,252.8 244,255.3 244.7,255.2 245.1,253.5 245.9,253.8 246.3,252.4 247,258.5 247.7,256.4 248.4,255.9 248.9,254.6 249.4,256 250.2,256.4 250.8,256.5 251.3,254.7 252.2,257.4 252.7,260 253.4,257.5 253.8,262.6 254.5,259.6 255.1,257.8 255.5,262.1 256.7,259.7 257.1,260.4 257.6,258.7 258.1,258.2 258.7,264.2 259.7,257.4 260.2,258.8 260.7,261 261.1,265.6 261.8,267.6 262.6,261.6 263.1,263.7 263.8,261.3 264.6,269.4 265.3,263.7 265.7,264.2 266.5,266.9 267.1,266.3 267.6,269.6 268,270.2 268.7,264.9 269.4,262.4 269.9,266.2 270.6,266.1 271.2,266.2 271.9,270.6 272.4,263.9 273.2,271.3 273.8,273.1 274.3,266.4 274.9,267.4 275.4,264.8 275.9,267.3 276.7,271.9 277.1,266.9 277.9,295.1 278.4,271.7 279.3,268.9 279.8,271.1 280.5,269.8 281.1,267.3 281.8,270.2 282.3,277.6 282.8,277.6 283.5,269.4 283.9,271.6 284.8,269.6 285.4,271.9 285.8,275.3 286.5,286.3 287,274 287.6,277.3 288.1,278.1 288.8,281.5 289.6,274.4 290.2,275.3 290.8,280.5 291.2,269.5 291.8,276.6 292.5,273.6 293.2,270 293.6,277 294.5,277.1 295.2,313.2 295.3,279.6 296.4,275.6 296.7,278.9 297.2,287.8 297.7,278.3 298.8,279.6 299.2,279.3 299.5,283.2 300.6,286.6 300.9,280.7 301.7,282 302.1,279 303,276.5 303.5,284 303.6,283.6 304.7,285.2 305.3,276.5 305.8,284.9 306.3,283.5 306.9,279.7 307.5,286.2 308.3,290 308.5,287.2 309.6,287.2 310,276.7 310.5,282.3 311,288.8 311.8,288.4 311.9,288.1 312.9,283.6 313.9,281.7 314.1,284.8 314.9,293.4 315.2,290.6 316.1,289.8 316.6,290.2 317.1,284.6 317.8,288.1 318.4,285.6 318.7,286.4 319.5,300.2 320.3,291.7 321,292.7 321.6,290.6 322.1,293.2 322.7,288.7 323.3,294.1 323.8,289.8 324.5,293.8 325,284.6 325.4,285.7 326.1,293.5 326.9,293.8 327.5,295.7 328,290.2 328.6,293.4 329.3,295 330,289 330.5,290.7 331.2,287.5 331.6,289.8 332.2,289.4 332.8,291.8 333.4,290.1 334,299.1 334.8,290 335,285.4 335.5,293.2 336.4,288.3 336.9,291.3 337.5,294 338.5,294.3 338.7,291.7 339.3,291.7 339.9,288.1 340.5,295 341.3,294 342.1,294.4 342.2,293.8 343.3,297.3 343.7,294.2 344.4,303.5 344.7,295.9 345.1,294.5 345.9,298.7 346.6,296.1 347.1,295.1 347.9,331.1 348.4,299.8 349,297.6 349.6,294.7 350.2,293.7 350.8,310.2 351.6,306.5 352.1,302.7 352.6,300 353.1,323.3 353.9,301.6 354.5,304.2 355.1,306.9 355.6,296.7 356.1,299.8 356.8,299.4 357.4,298 358,297.4 358.7,297.9 359.3,300.8 359.8,295.2 360.3,298 361,311.2 361.7,305.7 362.7,296 362.8,300.8 363.4,306.4 364,301.2 364.2,299.3 365.1,306.8 365.9,310.6 366.4,301.1 367,300 367.7,296.8 368.3,297.9 368.9,314 369.4,295.9 370,305.1 370.6,300.5 371.3,306.2 371.7,309.9 372.5,302.8 373,307.8 373.7,335.3 374.2,306.6 374.7,308.3 375.4,304.3 376,309.9 376.7,310.7 377.3,317.1 377.8,307.7 378.2,305.5 378.9,304.1 379.7,304.9 380.3,310.5 380.9,302.6 381.4,313.9 382.1,298.2 382.6,309 383.4,303.4 383.6,305.7 384.3,341.3 385.2,302.6 385.8,311 386.4,302.5 386.6,319.9 387.2,309.3 387.7,308.8 388.6,306.5 389.2,310.5 389.6,305.7 390.5,304.8 390.7,319.1 391.4,311.8 392.3,299.6 392.7,301.9 393.4,301.6 393.6,305.3 394.6,317.7 395.2,316.3 395.6,306.3 396.2,315.6 397,309 397.6,311.3 398.2,309.1 398.7,299.7 399.4,306.2 399.6,310.4 400.6,310.2 401.4,301.5 401.9,314 402.6,313.4 403,308.6 403.7,309.1 404.2,304.5 404.5,305.1 405.5,337.9 406.3,309.2 406.8,305.8 407.3,319.2 408,306.5 408.6,313.8 409.2,309.4 409.5,305.6 410.3,309.1 410.7,308.8 411.4,317.2 412,307.7 412.5,300.5 413.2,309.4 414,316.9 414.2,311.5 415.1,315.9 415.7,307.4 416.1,319.6 416.5,301.9 417.4,303.4 418.1,322.7 418.5,313.3 419.2,307.4 419.7,308.1 420.4,305 421,307.5 421.3,305.8 422.2,313.4 423.1,312.2 423.2,310.5 424.1,313.7 424.4,314.6 425.1,305.9 425.8,302.8 426.5,300 427.1,302.7 427.6,308 428.2,316.3 428.8,312.7 429.3,307.3 430,306.7 430.6,309.1 431.1,319.6 431.8,312.2 432.2,308.4 432.9,343 433.6,312.8 434.2,305.7 434.8,298.1 435.4,297.6 435.9,311 436.5,304.5 437.1,324.2 437.9,307.8 438.7,306.4 438.7,316.7 439.7,305.8 440.2,308.2 440.9,333.1 441.4,309.6 442.1,303.6 442.8,305.1 443.4,299.4 443.6,302.4 444.1,309.7 445,307.4 445.7,312.9 446.6,323.8 446.9,325.2 447.7,316.7 448.3,308.4 448.5,333.6 449.2,309.8 449.6,306.5 450.5,308.4 450.9,303.9 451.6,308.9 452.2,351 452.8,308.5 453.3,309 453.9,323.6 454.6,306.4 455,311.6 455.6,308.7 456.6,309.2 457.1,310.4 457.5,322 458.1,318.4 458.8,300.3 459.4,311.7 460,304 460.4,304.9 461.1,309.1 462,308.6 462.7,310 463.1,313.4 463.7,320.9 464.1,316.2 464.8,310.4 465.3,313.1 466.1,302.6 466.6,306.5 467,311.5 467.7,307.9 468.3,309.3 468.6,313.4 469.7,315.6 470.3,308 470.9,300.2 471.3,352.3 471.8,304.9 472.7,315 473,302.6 474,309.6 474.4,320.3 475.1,334.9 475.7,313.5 476.1,316 476.8,304.5 477.9,317.1 478.1,310.7 478.8,298.1 479,298.6 479.5,308.9 480.3,312.7 480.9,316.3 481.6,313.8 482.4,307.6 482.7,312.7 483.5,329.1 483.8,315.2 484.6,305.4 485.3,305.1 485.7,318.7 486.5,307.6 487.3,311.1 487.6,319.7 488.1,328.4 488.8,305.8 489.3,304 490,316.1 490.5,294 491.1,351.7 491.8,330.8 492.4,311.3 493.1,309.5 493.8,317.5 493.9,313.2 494.8,307.9 495.3,319.3 495.9,317.1 496.6,314 497.4,311.4 497.7,316.3 498.4,305.1 499.2,319.5 499.4,312 500.2,314.2 500.9,303.9 501.4,304.3 501.8,306.7 502.8,302 503.2,307.2 503.8,306.8 504.1,315.1 504.9,297.1 505.5,317.1 506.4,310.6 506.7,307.6 507.3,310.2 508,306.3 508.7,310.7 509.2,310.1 509.9,322.7 510.3,311.1 511.1,332.7 511.5,321.9 512,310.1 512.9,309.4 513.1,312.5 513.8,317.3 514.5,313.8 515,307 515.8,315.6 516.7,311.4 517,302.3 517.5,312.9 518.2,306 519,303.4 519.4,293.7 520,314 520.9,317.9 520.9,312.7 522,311.9 522.2,329.5 523,312 523.2,320.5 524.1,322.6 524.6,323 525.5,305.5 526.2,335.2 526.6,310.3 527.1,325.7 527.7,309.1 528.3,315 529.2,311.7 529.5,312.8 530.2,317.7 530.8,311.5 531.2,316.1 532.1,298.5 532.8,322.5 533,312.8 533.9,308.7 534.4,325.2 535,310.5 535.5,308.8 536.2,305.2 536.9,312.1 537.1,308 537.9,313.6 538.5,304.4 539.2,318.9 539.8,313.2 540.4,352.5 541,314.6 541.8,308.1 542,309.8 543.2,314.4 543.5,307.7 544,321.7 544.5,321.9 545.1,307.9 545.7,305.7 546.4,309.3 547,323.3 547.6,314.1 548.1,312.9 548.9,310.5 549.2,316.5 549.9,315.4 550.6,314.8 551.2,314.6 551.9,325.1 552.2,312.4 553.1,311.5 553.6,309.8 554,309.9 554.5,305 555.4,317.7 555.7,312.7 556.4,313.2" fill="none" stroke="none" marker-start="url(#mgr)" marker-mid="url(#mgr)" marker-end="url(#mgr)"/>
<polyline points="83.5,140.9 85.5,142.8 87.5,144.8 89.5,146.6 91.5,148.4 93.5,150.2 95.5,152 97.5,153.8 99.5,155.6 101.5,157.4 103.5,159 105.5,160.6 107.5,162.2 109.5,163.8 111.5,165.4 113.5,167 115.5,168.5 117.5,169.7 119.5,170.9 121.5,172.1 123.5,173.3 125.5,174.5 127.5,175.7 129.5,176.9 131.5,178.1 133.5,179.3 135.5,180.5 137.5,181.7 139.5,182.9 141.5,184.1 143.5,185.3 145.5,186.5 147.5,187.7 149.5,188.9 151.5,190.1 153.5,191.3 155.5,192.5 157.5,193.8 159.5,195.2 161.5,196.6 163.5,198 165.5,199.4 167.5,200.8 169.5,202.2 171.5,203.4 173.5,204.6 175.5,205.8 177.5,206.9 179.5,208.1 181.5,209.3 183.5,210.5 185.5,211.8 187.5,213 189.5,214.2 191.5,215.4 193.5,216.6 195.5,217.8 197.5,219 199.5,220.2 201.5,221.4 203.5,222.6 205.5,223.8 207.5,225.1 209.5,226.3 211.5,227.2 213.5,228 215.5,228.8 217.5,229.6 219.5,230.4 221.5,231.2 223.5,232 225.5,232.9 227.5,233.9 229.5,234.9 231.5,235.9 233.5,236.9 235.5,237.9 237.5,238.9 239.5,239.9 241.5,240.8 243.5,241.8 245.5,242.7 247.5,243.7 249.5,244.6" fill="none" stroke="#1a00f0" stroke-width="4.6" stroke-linecap="round" stroke-linejoin="round"/>
<polyline points="83.1,140.5 83.9,141.3 84.5,142.2 84.9,142.6 85.5,143.7 86.4,144.3 86.7,143.3 87.5,144.6 87.8,145.4 88.6,145.3 89.2,146.2 89.9,147 90.4,148.1 91,147.8 91.8,148.2 92.3,148.8 92.9,150.3 93.6,149.7 94,151.3 94.7,150.4 95.3,152.6 96.1,153.1 96.6,153.6 97,153.8 97.6,154.5 98.3,153.9 98.8,155.6 99.5,155.9 100.3,156.1 100.9,158.2 101.3,158 102,157.2 102.7,158.8 103.4,158.9 104,160.1 104.7,160.1 105.1,158.8 105.8,160.6 106.1,161.6 106.5,162.3 107.2,162.4 108,162.6 108.8,164.4 109.4,164.1 110,163.5 110.7,164.2 111,166.3 111.6,166.1 112.4,166.6 113.1,168.9 113.7,167.9 114.2,167.2 114.8,167.8 115.5,168.4 116,167.9 116.9,169.4 117.4,168.5 117.6,169.6 118.6,170 119.2,170.5 120,170.6 120.4,170.9 121,173 121.6,172.4 122.1,172 122.8,173.5 123.4,172.4 124.1,173.1 124.6,174.7 125.3,175.2 125.9,174.8 126.4,174.4 127,174.7 127.7,174.5 128.5,174 129,176.9 129.7,177.5 130.3,178.6 130.7,176.5 131.5,178.8 131.9,177.8 132.8,179 133.5,178.7 134,180.3 134.6,178.6 135.3,180 135.8,180 136.7,180 137,182.6 137.8,182.7 138.5,183.6 138.7,183.4 139.7,182.5 140.2,183.2 140.9,183.8 141.4,184.1 142.3,185.2 142.6,184.9 143.3,185 144,185.2 144.8,186.1 145.2,186.2 146,185.5 146.4,187.6 147.2,187.4 147.6,187.6 148.5,189.2 148.9,188 149.7,188.4 150.4,189.8 150.6,188 151.3,189.9 152.1,189.7 152.8,192.3 153.4,192.9 154.2,191 154.6,193.3 155.3,191.9 155.6,194.1 156.6,194.5 157.3,192.8 157.8,194.3 158.6,195.1 159,194.5 159.6,195.3 160.4,196.5 160.8,196.3 161.7,198.3 162.4,197.8 162.6,197.9 163.5,198.3 164.2,200.8 165,200.1 165.5,198.5 166.1,199.6 166.7,200.5 167.3,200.9 167.8,200.8 168.6,200.5 169.1,201.3 170.1,204.4 170.5,202.2 171.3,202.9 172.1,203.4 172.4,205.4 173.3,204.7 173.6,204 174.3,206.4 174.9,206.1 175.7,205.2 176.3,206.1 176.9,205.3 177.5,208.9 178,207.9 179,207.9 179.3,210.6 180,207.9 180.6,209 181.6,208.2 181.8,211.1 182.8,210.3 183.4,210.7 184,210.5 184.4,210.4 185.1,211.7 186,213.3 186.5,211.5 187.2,211.8 187.7,213.1 188.6,215.7 189.1,213.5 189.6,216.4 190.6,214.4 191.1,215.1 191.6,214.9 192.2,215.6 193.1,217.2 193.7,217.8 194.4,218 195.1,216.8 195.7,218.8 196.2,217.4 197,219.2 197.3,218.8 198.3,219.2 198.6,221.6 199.5,220.7 200.2,221.1 200.6,223 201.3,221.1 202,221.6 202.6,223.1 203.7,222 204.1,223.4 204.5,221.5 205.6,222.6 206.1,222.8 206.6,225.4 207.4,224.5 208.1,224.8 208.6,224 209,225 210,226.8 210.4,228.2 211,227.5 211.9,228.8 212.7,226.4 213.1,228.8 213.7,228.1 214.4,229.1 215.2,228 215.5,228.5 216.5,228.8 216.7,228.7 217.7,229.5 218.3,229 218.8,228.9 219.7,230.5 220.2,231.9 221,231.1 221.4,229.5 221.9,230.7 222.4,231.8 223.4,230.5 224,233.6 224.5,230.2 225.6,234.5 225.7,234.2 226.7,233.6 227,232.6 227.7,233.6 228.6,234.8 229.4,234.1 229.7,232.5 230.4,237.1 230.8,234.9 231.3,237.3 232.1,239 233,239.9 233.6,236.5 234.1,235.5 234.7,239.6 235.5,237.3 236.1,237.8 236.7,239.3 237.4,237.9 237.9,238.9 238.2,237.7 239.5,239.4 239.8,240.8 240.4,241.6 241.1,240.3 242.1,238.7 242.2,240.2 242.9,241.5 243.4,241.6 244,239.7 244.8,243.1 245.4,242.9 245.9,243.2 246.8,241.8 247.4,245.9 248.2,245.5 248.6,244.5 249.1,244.5 250,244.9 250.1,248.1 250.8,246.4 251.4,245.4 252.4,247.1 252.9,245 253.8,247.4 254.5,247.5 254.9,247.4 255.1,245.2 256.3,246.5 256.9,247.6 257.4,248.3 257.6,247.3 258.4,251.4 259.3,248.4 259.9,250.8 260.1,250.6 261.1,247.2 261.7,250.1 262.1,250.4 263.1,248.6 263.6,249.5 264.2,254.3 264.7,253.8 265.7,252.1 265.9,253.9 266.5,254.2 267.2,252.5 267.9,254.8 268.4,255 269,256 269.8,255.1 270.4,254.7 270.8,257.7 271.6,255.7 272.2,255 272.7,257.5 273.4,254.9 274.1,256.5 274.6,256.7 275.1,257.5 275.7,256.1 276.6,257.6 277.2,257.8 278,257.5 278.2,259.9 278.6,258.3 279.5,260.3 280.2,258.7 280.6,258.1 281.1,261 281.8,259.3 282.8,260.6 283,260.6 283.9,260.6 284.3,259.5 284.9,260.1 285.6,261.1 286.3,261.4 286.9,261.7 287.6,263.8 288.1,262.5 288.7,259.6 289.3,263 290,264.1 290.6,263.2 291,265.5 291.8,262.2 292.5,264.9 292.7,264.5 293.6,266.7 293.8,264.4 294.4,264.2 295.4,266.5 295.9,267 296.5,268.4 297.1,267.3 297.4,266.5 298.1,269.2 299,266.8 299.3,267.9 300.5,269.2 300.6,267.7 301.4,270.5 301.9,271.1 302.3,270.9 302.9,270.2 304,270.1 304.3,274.4 305.1,270.1 305.5,273.5 306.1,269.4 306.6,274.2 307.4,273.4 308.1,273.4 308.3,274.8 308.8,274.2 309.8,274.1 310.6,278.3 310.7,274.1 311.5,275.8 312.1,277.3 312.7,274.6 313.1,275.8 314,278.2 314.3,274.4 315.2,280.5 315.7,277.5 316.4,281.5 317.1,283 317.6,279 318,278.7 318.4,279.6 319.5,281.2 319.6,284.8 320.6,280.9 321.1,280.1 321.6,279 322.1,280 322.8,280.8 323.6,281.7 324.2,279.5 324.7,281.5 325.3,285.1 325.7,281.8 326.4,289.8 327.1,287.2 327.5,284.9 328.2,283.7 329,284.8 329.6,292.8 330.2,287 330.9,283.7 331.1,290.2 332.1,293.3 332.4,284.3 332.8,290.8 333.9,289 334.3,289 334.7,286.3 335.4,288 336.4,291.6 336.5,295.6 337.2,285.2 337.8,300 338.5,296.5 339,296.9 339.8,289.2 340.4,289 340.8,285.3 341.3,296.5 342,290.8 342.8,293.9 343.2,300.1 344.1,294.8 344.4,295.9 345.3,297.9 345.6,297.4 346.2,295.8 347.1,291.9 347.3,299.2 348,296.1 348.6,313.4 349,296 350.1,298.2 350.7,293.1 350.8,292.3 351.7,301.7 352.3,300.9 352.9,305.1 353.2,301.8 354.2,300.5 354.9,305.4 355.1,297 355.9,301.1 356.4,296.5 357.3,304.2 357.7,302.5 358.5,296.2 358.7,301.7 359.4,293.3 360.1,296.3 360.8,305.7 361.4,301.1 362,298.6 363.1,302.1 363.4,307.7 363.8,308.6 364,299.8 364.6,306.1 365.6,314.5 366,302 367,318.3 367.3,309 367.9,303.8 368.4,304.3 369.1,324 369.6,300.9 370.5,304.3 371,301 371.9,304 372.2,314.9 372.6,307.2 373.5,303.4 374.1,316.3 374.4,306.3 375,313.1 375.6,307.3 376.2,301.3 376.5,299.3 377.2,305.2 378.3,306.7 378.9,310.8 379.2,319.2 379.6,302.5 380.5,320.8 381,310.6 381.7,317.3 382.2,300.2 382.9,307.5 383.5,317.5 384.2,312.1 384.8,309 385.1,318.7 385.8,310.4 386.5,307.5 386.8,310 387.6,321.5 388.5,320.9 388.9,305.2 389.4,300.6 389.8,306.3 390.6,316.1 391.2,322.2 392.1,307 392.6,309.1 393.4,313 393.4,305.9 394.5,311.1 395,305.9 395.5,312.4 395.8,308.3 396.6,325.2 397.6,318.3 397.6,310.2 398.5,312.2 398.9,317.2 399.7,323.4 400.1,321.7 400.7,333.9 401.3,313.1 402.1,312.4 402.5,319.2 403.5,321.3 404,317.6 404.7,309.4 405.2,332.1 405.3,318.1 406.4,313.5 407.1,311.5 407.4,316.7 408.3,317.4 408.6,313.6 409.3,324.4 409.9,320.6 410.5,310.7 411,320.2 411.7,328 412.1,315.4 413,314.3 413.6,310.8 414.2,317.1 414.5,308.1 415.4,328.8 415.9,331.8 416.7,321.7 417.1,325.1 417.6,316.6 418.4,309 418.9,319 419.8,321 420.2,314.1 420.5,320 421.5,315.9 422,315.6 422.6,327.7 423.1,326.9 423.6,309.2 424.4,310.6 424.9,318.1 425.5,318.5 426,317.4 426.9,326.7 427.1,318.9 428,316.2 428.5,319.5 429.3,323 429.4,327.6 430.3,323.7 430.9,328.3 431.4,328.1 431.9,314.6 432.5,329.1 432.8,321.2 433.7,331.1 434.4,350.5 435,318.3 435.6,323.3 436.5,321.9 436.9,311.1 437.7,325.2 438.1,315 438.9,319 439.2,317.7 439.9,320.9 440.6,325.3 441.3,333.6 441.7,319.7 442.5,320.7 443,317.9 443.7,323.3 444.2,328.6 444.7,314.8 445.1,320 445.7,330.5 446.6,324.4 447.2,316.8 447.7,338.4 448.3,318.6 449.2,323.2 449.7,322.6 450.2,323.8 450.8,317.3 451.3,329.3 451.9,313.3 452.4,331.2 453.1,318.9 453.7,340.2 454,321.3 455,314.4 455.7,324 456.1,318 456.5,320.2 457.3,349.5 457.9,311.5 458.5,346.1 458.9,318.1 459.6,326.8 460.2,327.3 460.8,338.1 461.6,348.7 461.9,337.7 462.8,342.4 463.2,336.7 463.7,322.3 464.6,323.5 464.9,323.2 465.8,329.5 466.3,324 467,348.3 467.5,323 468.1,336.4 468.6,331.3 469.2,331.5 469.8,340.7 470.3,311.4 470.9,340.8 471.7,343 472.2,333.2 472.9,315.1 473.6,324.1 474,319.6 474.7,327.5 475.3,321.5 475.9,326.3 476.1,320.2 477.3,319.5 477.8,333.4 478.2,331.1 478.9,337.2 479.4,325 480.1,321 480.9,324.2 481.4,332.3 481.9,317.4 482.7,326 483.4,324.3 483.6,327.6 484.4,330.8 485.1,325.7 485.5,330.6 486,321.6 486.6,324.5 487.4,315.5 487.7,318.8 488.4,333.3 489,330.7 489.9,321.2 490,323.5 491.1,322.2 491.2,324.2 492.1,329.2 492.8,310.1 493,340.1 493.8,327 494.5,333.5 495.5,335.3 495.6,329.9 496.1,329.2 496.9,318.3 497.4,310.9 497.9,328.3 498.6,334.2 499.4,328 499.8,337.1 500.4,321.1 501.1,325.9 501.7,341.2 502.4,338 502.7,328.7 503.5,345 503.9,326.1 504.5,328.9 505.2,320.6 505.9,345.8 506.3,342.9 507.2,309.1 507.6,325.5 508.3,330.5 509,326.6 509.6,331.6 510,337.4 510.7,330.2 511.6,335.8 512.2,324.8 512.5,352 513.1,322.4 513.9,324 514.5,336.3 515,334.1 515.6,341.4 516.1,349.2 516.8,321 517.2,327.1 517.7,318.2 518.7,332.1 519,329.4 519.8,327.6 520.3,332 520.9,327.5 521.4,360.8 522.3,347.4 522.7,328.8 523.6,319.4 523.8,329.7 524.4,329.7 525.1,335.2 525.5,329.4 526,319.3 526.8,344.2 527.5,322.6 528,341.6 528.6,330.6 529.2,318.7 530.2,329.4 530.8,347.5 531.4,330.3 531.6,323.5 532.4,345.2 532.9,328.3 533.4,332.9 534.2,325.6 534.6,333.7 535.1,336 535.9,326.4 536.5,341.8 537.1,335.4 537.9,328.6 538.2,321.6 538.8,324.9 539.7,356.9 539.9,339.9 540.7,314.9 541.3,334.9 542.2,333.4 542.6,323.8 543.3,326.3 543.7,330 544.3,334.4 544.9,330.6 545.5,337.1 546.1,344.2 546.8,328.5 547.5,346.4 547.7,330.2 548.6,334.4 549,338.2 549.5,329.3 550.5,326.2 550.9,329.4 551.6,328.8 552,335.1 552.7,347.4 553.3,325.1 553.9,329.9 554.6,322.6 555.1,328.6 555.6,327.3 556.4,333.2 557.2,344.1" fill="none" stroke="none" marker-start="url(#mb)" marker-mid="url(#mb)" marker-end="url(#mb)"/>
<polyline points="81,108 83,110.5 85,113 87,115.5 89,118.1 91,121 93,123.8 95,126.5 97,128.9 99,131.2 101,133.6 103,136 105,138.4 107,140.9 109,143.7 111,146.5 113,149.3 115,152.1 117,154.9 119,157.5 121,159.5 123,161.6 125,163.6 127,165.9 129,168.1 131,170.4 133,172.9 135,175.3 137,177.8 139,180.3 141,182.8 143,185.2 145,187.4 147,189.6" fill="none" stroke="#cc1a1e" stroke-width="4.6" stroke-linecap="round" stroke-linejoin="round"/>
<polyline points="80.7,108.6 81.3,108.5 81.9,108.6 82.4,110.2 82.9,111 83.4,110.5 84,112.8 84.7,112.6 85,113.7 85.9,114 86.6,115.7 87.2,115.3 87.7,116.8 88.4,116.6 88.8,118 89.7,118.9 90.1,120.3 90.8,120.9 91.6,121.3 92.2,122.2 92.8,122.9 93.1,123.5 94,125.2 94.5,126.1 95.3,126.3 95.6,126.7 96.3,127.3 96.7,128.2 97.4,128.8 98.1,131.8 98.4,130 99.2,132 99.6,132.2 100.3,133.3 101.1,133.5 101.7,135.1 102,135.1 102.7,136.1 103.6,136.6 104.1,138.1 104.9,139.5 105.1,138.8 105.8,140 106.3,140.1 107.5,140.9 107.7,141.9 108.5,142.4 109,143.5 109.8,144.6 109.9,145.2 110.7,146.9 111.6,147.1 112,148 112.3,148.5 113.3,149.2 113.6,150.1 114.6,151.2 115.4,151.8 115.5,152.8 116.3,152.9 116.9,154.9 117.5,156.2 118.3,155.6 119.1,157.8 119.1,158 120,158.2 120.9,159.4 121.3,159.2 122,159.7 122.5,160.9 122.9,161.9 123.7,162 124.2,163.5 124.9,162.6 125.7,164 125.9,164.8 126.9,166.6 127.4,167.3 128,167.6 128.8,167.8 129.6,169.1 130.2,168.3 130.8,169.6 131.3,171 131.8,170.8 132.4,171.8 133,172.3 133.5,174.2 134.5,173.7 135,175.9 135.5,175.3 136.1,177.4 136.8,177.8 137.4,179.2 138,179.3 138.4,179.3 139.1,180.2 139.8,182.6 140.3,181.9 141.2,183.4 141.8,184 142.6,183.4 143,186.6 143.4,187.4 144.5,186.2 144.9,186.5 145.5,191.1 146.3,188.3 146.6,188.2 147.2,189.2 148.1,190 148.5,192.7 149,193.4 150.1,194 150.5,193.2 151.1,195.2 151.9,193 152.3,196.5 152.9,195.5 153.5,196.7 154.2,198.6 154.9,197.2 155.6,198.2 156.1,202.3 156.7,200.3 157.3,199.5 158.1,204.2 158.9,203.8 159.4,202.5 159.9,208.7 160.7,204 161,205.8 161.8,208.7 162.6,206.4 163.4,210.2 163.9,207.4 164.6,212.3 165.2,209.6 165.4,212.3 166.2,210.5 167.2,211 167.8,210.1 168.3,215 168.8,214.3 169.6,212.5 169.8,220.2 170.9,214 171.7,215.5 172.1,214.3 172.4,213.5 173.3,214.9 174,220.1 174.6,225.8 175.4,215.9 175.8,221.2 176.5,222.2 177.2,219.6 178.1,219 178.5,224.2 179.3,225.8 179.8,232 180.2,223.3 181,224.2 181.6,229.4 182.4,231.3 183,223.4 183.6,225.8 184.5,232.1 184.9,230.7 186,232.7 186.4,228.9 186.8,233.6 187.6,232.9 188.3,230.8 188.7,235.9 189.5,230.8 190.1,238.3 190.6,235 191.4,237.1 192,229.8 192.7,237 193.4,237.3 194,239.5 194.6,238.6 195.5,237.3 195.9,240.6 196.6,242.3 197.1,240.1 197.7,248.8 198.4,249.3 199.2,246.8 199.7,237.4 200.3,248.9 200.8,255.3 201.7,238.5 202.2,245.6 203.3,256 203.8,248.6 204.6,248.6 205,249.6 205.5,248.3 206.5,254.8 207,260.9 207.5,252.1 208.2,257.4 208.8,256.9 209.6,287.9 209.9,264.9 210.8,257.1 211.5,263.5 212.1,256.1 212.8,258.1 213.4,256.9 213.9,251.6 214.6,258.3 215.4,255.7 215.8,252.7 216.5,271.6 217.2,261.6 218,271.7 218.6,282.7 219.3,268.9 220.1,265.8 220.5,267.3 221.2,270.1 221.5,272.7 222.4,262.5 222.8,275.4 223.6,264.3 224,265.7 225,272.2 225.5,262.1 226.2,269.2 226.7,280.8 227.4,264.8 228,278.7 228.6,267.5 229.5,264.2 229.9,267.3 230.3,262.8 231.1,266.9 231.8,275.4 232.6,298.9 233.3,273.2 233.9,291.5 234.6,276 235.1,281.5 235.7,275.4 236.2,262.1 236.9,262.1 237.6,278.4 238.3,269.4 239,290 239.3,297.6 239.9,269.5 240.5,272 241.3,284.5 241.9,276.5 242.6,287.7 243.2,292.5 244,293.7 244.5,277.9 244.9,269.2 246,296 246.6,280.7 246.9,286.6 247.5,282.3 248.5,272.8 249.1,271.8 249.5,277.5 250,287.7 250.8,282.9 251.5,289.7 252.1,284.7 252.7,276.3 253.4,291.3 253.9,277.3 254.5,292.9 255.2,277.8 256,282 256.6,281.7 257,283.3 257.5,278.4 258.4,293.8 258.6,265.9 259.5,285.3 260.2,295.3 260.8,284 261.3,284.9 261.7,311.1 262.5,279.7 263.3,284.7 263.7,282.6 264.4,299.3 265.4,285.9 265.6,299.8 266.2,287.6 267.1,290.9 267.9,285.3 268.3,280.1 268.8,288 269.4,293.2 270,288.7 270.9,303.9 271.1,301.7 271.8,300.4 272.6,303.3 273,290.3 273.9,291.7 274.2,298.6 274.9,304.7 275.5,287.4 276.4,304.3 276.6,300.2 277.3,292.3 277.6,286.6 278.7,276.3 279.3,288.7 279.8,295.9 280.4,293.7 280.9,325.3 281.8,314.4 282,294.7 282.7,295.5 283.6,285.7 284.1,286.7 284.5,288.4 285.3,303.4 285.9,298.1 286.5,288.4 287.3,299.3 287.8,292.3 288.1,285.7 289.1,281.7 289.5,309.7 290.1,301.6 290.9,307.7 291.3,294.2 291.9,308.7 292.4,307 293,289.6 294,289.3 294.4,303.4 295.1,291.6 295.5,289.9 296.3,305.2 296.9,292.2 297.2,286.5 298,283.4 298.7,296.3 299.1,286.3 299.7,293.3 300.1,301 300.9,288.7 301.7,299 302,303.2 302.9,296.7 303.3,296.3 303.8,310.1 304.7,301.6 305.1,289.6 305.8,294.7 306.3,317 307.1,298 307.7,319.5 308.2,308.7 309.1,279.3 309.4,287.2 309.7,304.1 310.4,299.5 311.4,299 311.8,304.4 312.4,303.2 312.8,328.2 313.5,302.2 314.2,299.6 314.7,317.7 315.2,311.2 316,325 316.4,309.3 317.3,306.3 317.7,301.1 318.4,305.9 318.9,309.3 319.6,315.3 320.2,301.4 320.9,309.5 321.2,307 322.2,307.7 322.8,324.2 323,298.7 323.4,306.1 324.4,312.7 324.8,296.3 325.4,297.2 326.1,318.6 326.9,340 327.4,302.1 327.9,312.1 328.7,290.8 329.1,307.1 329.8,298.1 330.3,300.8 331,310.6 331.4,318.1 332.1,293.9 332.9,310.3 333.4,303.5 333.9,303.8 334.7,322.9 335.3,316.2 335.8,314.9 336.4,308 337,305.2 337.3,309.3 338.2,310 339,308.7 339.2,311 339.7,302.3 340.7,308.5 341.1,305.7 342,319.9 342.2,309.9 343,329.7 343.6,302.1 344.2,310.6 344.7,306.4 345.2,309.8 346,304.7 346.6,321.1 347.1,294.5 347.8,294.4 348.7,329.5 349.2,309 349.8,316.4 350.2,312 350.8,303.6 351.5,303.9 352.1,308.4 352.7,338.3 353.2,319.9 354,369 354.4,328.8 354.9,330 355.6,323.2 356.3,313.6 356.9,307.4 357.3,307.4 358.1,308.3 358.7,331.6 359.1,324.3 359.8,320 360.3,310 361,304.7 361.7,314.6 361.9,309.5 363,298.2 363.6,301.1 364.3,310.9 364.7,323.8 365.1,309.3 366.1,305.4 366.4,344.3 366.8,313.3 367.6,305.2 368.5,336.4 368.6,320.5 369.3,315.8 370.2,332.5 370.5,331.2 371.1,328.5 371.6,332.2 372.4,317.6 373.1,335.9 373.5,309.6 373.9,312.9 374.8,335 375.5,339 376,328.3 376.8,315.9 377.1,302.9 377.5,315 378.4,325.8 378.9,314.7 379.5,305.2 380.2,318.7 380.7,335.7 381.3,314.2 382,312.9 382.6,316.8 383.4,333.9 384,296.7 384.3,340.2 384.9,307.1 385.8,306.6 386,332.4 386.8,346.3 387.5,309.4 388,329.4 388.7,322.1 389.2,329.9 389.9,323.5 390.2,320.9 391,316.1 391.7,321.5 392.2,323.7 392.5,320.5 393.5,334.2 394,321.2 394.6,314 395.3,322.5 395.6,330 396.7,318.2 397.2,325.6 397.4,333.1 398.2,331.9 399,313.1 399.5,316.9 399.9,309.8 400.5,316.7 401.1,397.4 401.9,328.9 402.2,329.7 403.2,389.3 403.6,325.7 404.3,319.7 404.7,319 405.6,321.6 406.1,314.4 406.8,315.6 407.2,321.3 407.9,344.5 408.3,323.3 409.1,320.6 409.4,315.6 410.4,330.6 410.8,327.4 411.7,334.2 412.1,318.2 412.4,361.7 413,313.2 413.8,351.5 414.4,336.6 415.1,339.2 415.7,322.5 416.3,333.5 417,338.5 417.3,327.9 417.9,321.2 418.6,321 419.3,325.5 419.8,326.6 420.4,344.9 420.8,328.4 421.5,328.9 422,310.1 423.1,332.4 423.3,326.8 424.2,316.7 424.5,323.5 425,328.9 425.5,339.2 426.5,314.3 427.1,322.2 427.6,327.1 428.4,338.3 428.9,323.1 429.4,331 430.1,315.4 430.5,319.2 431,347.6 431.8,317.5 432.4,326.3 433,327.8 433.7,329.7 434.1,322.1 434.9,411 435.7,322 436.2,342.1 437,341.2 437,319.3 437.8,327.7 438.4,339 439.1,344.2 439.6,324.5 440.1,328.5 440.8,322.6 441.4,392.4 441.9,329.3 442.2,327.5 443.1,326.8 443.6,317.8 444.2,330.5 445,315 445.6,336.2 446.2,330.7 447.1,324.8 447.5,313 448,329.4 448.6,324.1 449.3,324.5 449.7,319.5 450.2,389.2 451,321.8 451.5,336.3 451.9,328.9 452.6,321.2 453.3,314.1 454,315 454.5,325.7 455,346 456,327.2 456.4,315.8 457.3,345.1 457.7,324.7 458.1,326 458.7,323.5 459.1,316.4 460.1,351.8 460.8,327.1 461.3,344.6 461.7,323.2 462.3,329.9 462.9,334.4 463.8,337.7 464.3,309.9 464.9,316.9 465.5,320.7 465.8,326.6 466.3,383.1 467,336.5 468.1,344.9 468.4,324.4 469.1,357 469.7,341.4 470,337.7 470.9,322.1 471.1,362.2 471.7,331.4 472.8,331 473.3,355.4 473.6,341.6 474.4,348.1 474.9,327.7 475.5,338.4 476,319.2 477.1,325.1 477.5,334.4 478.2,312.5 478.3,338.7 479.1,340 479.5,335 480.2,339.6 480.9,320 481.7,337.6 481.9,327.7 483.2,322.1 483.4,320.9 484,336.2 484.8,350.9 485.2,329.7 485.7,343.6 486.3,335.1 487.1,406.7 487.5,332.2 488.1,323.2 488.6,327.6 489.6,331.1 490.1,334.4 490.8,332.2 491.4,339.7 491.9,361.7 492.4,332.5 493.1,326.4 493.6,346.7 494.1,347.8 494.8,323.1 495.4,328.5 495.9,343.6 496.6,339.5 497.1,339.1 497.7,335.2 498.2,334.8 499.1,327.2 499.7,348.1 500.3,341.3 500.6,342.2 501.4,339.6 501.8,345.9 502.6,381.3 503.5,334.7 504,333.3 504.5,373.1 505,336.1 505.5,332 506.4,338 506.6,327.1 507.5,349 507.7,369.2 508.6,330.2 509.3,333.5 509.7,337.4 510.7,321.6 510.9,327.8 511.5,342.7 512.4,319.2 512.7,331.7 513.4,318.6 514,329.1 514.6,329 515.1,314.7 515.7,327.1 516.4,340.1 517.1,321.4 517.6,331.9 518,339.8 518.7,341.5 519.3,366.5 520.2,323.3 520.5,353.6 521.3,345.3 522,370.4 522.2,403.9 522.8,324 523.6,333.3 524.2,345.6 524.8,334.5 525.5,341.2 526,354.7 526.5,323.1 527.3,310.3 527.9,339.2 528.2,336.2 528.8,336.9 529.3,329.9 530.2,319 530.8,331 531.4,324.1 531.9,338.1 532.6,344.7 533.3,350.7 533.8,338.3 534.4,330.9 535,347.7 535.8,323.3 536.1,344.8 536.6,327.4 537.2,325.3 538,356.6 538.4,325.9 539.1,336 539.7,341.6 540.7,364.9 540.7,317.8 542.2,333.2 542.4,339.8 543,332.2 543.2,363.6 543.8,367.4 544.6,333.3 545.2,344.2 545.8,324.4 546.3,322.9 546.9,329.4 547.6,329.1 548.2,368.7 548.7,334.2 549.2,315.8 550,335.8 550.7,354.4 551.1,331.4 551.7,349.9 552.3,391.2 553,364.3 553.9,351 554.5,365.1 554.7,342.5 555.3,353.9 556.2,362.4 556.7,331.1" fill="none" stroke="none" marker-start="url(#mr)" marker-mid="url(#mr)" marker-end="url(#mr)"/>
<defs><linearGradient id="fg" gradientUnits="userSpaceOnUse" x1="80" y1="0" x2="280" y2="0"><stop offset="0" stop-color="#52388c"/><stop offset="0.78" stop-color="#584278"/><stop offset="0.87" stop-color="#9a7c98"/><stop offset="1" stop-color="#bca4bc"/></linearGradient><linearGradient id="fg2" gradientUnits="userSpaceOnUse" x1="80" y1="0" x2="280" y2="0"><stop offset="0" stop-color="#c43a30"/><stop offset="0.5" stop-color="#b45a34"/><stop offset="0.78" stop-color="#a87038"/><stop offset="0.87" stop-color="#c8a088"/><stop offset="1" stop-color="#dcc0b0"/></linearGradient></defs>
<path d="M91.7,543.7C91.2,542 89.5,537.5 88.4,533.6C87.3,529.7 86,524.7 85,520.2C84,515.8 83,511.1 82.5,506.9C82,502.7 81.7,499.1 81.7,495.2C81.7,491.3 81.8,487.4 82.5,483.5C83.2,479.6 84.4,475.2 85.9,471.8C87.4,468.4 89.3,465.6 91.7,463.4C94.1,461.2 97.3,459.6 100.1,458.4C102.9,457.1 105.3,456.5 108.4,455.9C111.5,455.3 115.2,455 118.5,455C121.8,455 125.2,455.3 128.5,455.9C131.8,456.5 135.2,457.3 138.5,458.4C141.8,459.5 145.2,460.8 148.6,462.6C151.9,464.4 155.3,466.6 158.6,469.2C161.9,471.8 165.2,474.9 168.6,478.4C171.9,481.9 175.4,486.1 178.7,490.2C182,494.2 185.1,497.9 188.2,502.7C191.3,507.5 194.3,514.2 197.3,519.1C200.3,524 203.4,527.9 206.4,531.8C209.4,535.7 212.5,539.5 215.5,542.7C218.5,545.9 221.5,548.5 224.5,550.9C227.5,553.3 230.6,555.6 233.6,557.3C236.6,559 239.7,560.1 242.7,560.9C245.7,561.6 248.8,561.9 251.8,561.8C254.8,561.6 258.2,561 260.9,560C263.6,559 266.1,557.5 268.2,555.5C270.3,553.5 272.1,551.2 273.6,548.2C275.1,545.2 276.5,541.2 277.3,537.3C278.1,533.3 278.2,528.8 278.2,524.5C278.2,520.2 278.1,516 277.3,511.8C276.5,507.6 275.3,503.2 273.6,499.1C271.9,495 268.4,489.3 267.3,487.3" fill="none" stroke="url(#fg)" stroke-width="4.4" stroke-linecap="round"/>
<path d="M91.7,543.7C91.2,542 89.5,537.5 88.4,533.6C87.3,529.7 86,524.7 85,520.2C84,515.8 83,511.1 82.5,506.9C82,502.7 81.7,499.1 81.7,495.2C81.7,491.3 81.8,487.4 82.5,483.5C83.2,479.6 84.4,475.2 85.9,471.8C87.4,468.4 89.3,465.6 91.7,463.4C94.1,461.2 97.3,459.6 100.1,458.4C102.9,457.1 105.3,456.5 108.4,455.9C111.5,455.3 115.2,455 118.5,455C121.8,455 125.2,455.3 128.5,455.9C131.8,456.5 135.2,457.3 138.5,458.4C141.8,459.5 145.2,460.8 148.6,462.6C151.9,464.4 155.3,466.6 158.6,469.2C161.9,471.8 165.2,474.9 168.6,478.4C171.9,481.9 175.4,486.1 178.7,490.2C182,494.2 185.1,497.9 188.2,502.7C191.3,507.5 194.3,514.2 197.3,519.1C200.3,524 203.4,527.9 206.4,531.8C209.4,535.7 212.5,539.5 215.5,542.7C218.5,545.9 221.5,548.5 224.5,550.9C227.5,553.3 230.6,555.6 233.6,557.3C236.6,559 239.7,560.1 242.7,560.9C245.7,561.6 248.8,561.9 251.8,561.8C254.8,561.6 258.2,561 260.9,560C263.6,559 266.1,557.5 268.2,555.5C270.3,553.5 272.1,551.2 273.6,548.2C275.1,545.2 276.5,541.2 277.3,537.3C278.1,533.3 278.2,528.8 278.2,524.5C278.2,520.2 278.1,516 277.3,511.8C276.5,507.6 275.3,503.2 273.6,499.1C271.9,495 268.4,489.3 267.3,487.3" fill="none" stroke="url(#fg2)" stroke-width="2.6" stroke-dasharray="1.7 1.1"/>
<g stroke="#000" fill="none">
<path d="M60.4,3V587.3H642" stroke-width="1.7"/>
<path d="M60.4,2.7H431" stroke-width="1.7"/>
<path d="M642.2,2V588" stroke-width="1.8"/>
<path d="M60.5,557.3h6" stroke-width="1.5"/>
<path d="M642,557.3h-6" stroke-width="1.5"/>
<path d="M60.5,460h6" stroke-width="1.5"/>
<path d="M642,460h-6" stroke-width="1.5"/>
<path d="M60.5,362.7h6" stroke-width="1.5"/>
<path d="M642,362.7h-6" stroke-width="1.5"/>
<path d="M60.5,265.4h6" stroke-width="1.5"/>
<path d="M642,265.4h-6" stroke-width="1.5"/>
<path d="M60.5,168.1h6" stroke-width="1.5"/>
<path d="M642,168.1h-6" stroke-width="1.5"/>
<path d="M60.5,70.8h6" stroke-width="1.5"/>
<path d="M83.8,587.3v-3.6" stroke-width="1.2"/>
<path d="M107,587.3v-3.6" stroke-width="1.2"/>
<path d="M130.3,587.3v-3.6" stroke-width="1.2"/>
<path d="M153.6,587.3v-3.6" stroke-width="1.2"/>
<path d="M176.9,587.3v-6.2" stroke-width="1.4"/>
<path d="M200.1,587.3v-3.6" stroke-width="1.2"/>
<path d="M223.4,587.3v-3.6" stroke-width="1.2"/>
<path d="M246.7,587.3v-3.6" stroke-width="1.2"/>
<path d="M269.9,587.3v-3.6" stroke-width="1.2"/>
<path d="M293.2,587.3v-6.2" stroke-width="1.4"/>
<path d="M316.5,587.3v-3.6" stroke-width="1.2"/>
<path d="M339.7,587.3v-3.6" stroke-width="1.2"/>
<path d="M363,587.3v-3.6" stroke-width="1.2"/>
<path d="M386.3,587.3v-3.6" stroke-width="1.2"/>
<path d="M409.6,587.3v-6.2" stroke-width="1.4"/>
<path d="M432.8,587.3v-3.6" stroke-width="1.2"/>
<path d="M456.1,587.3v-3.6" stroke-width="1.2"/>
<path d="M479.4,587.3v-3.6" stroke-width="1.2"/>
<path d="M502.6,587.3v-3.6" stroke-width="1.2"/>
<path d="M525.9,587.3v-6.2" stroke-width="1.4"/>
<path d="M549.2,587.3v-3.6" stroke-width="1.2"/>
<path d="M572.4,587.3v-3.6" stroke-width="1.2"/>
<path d="M595.7,587.3v-3.6" stroke-width="1.2"/>
<path d="M619,587.3v-3.6" stroke-width="1.2"/>
</g>
<g font-family="'Liberation Sans', sans-serif" font-size="16" fill="#000" text-anchor="end">
<text x="52" y="563.1">-1</text>
<text x="52" y="465.8">0</text>
<text x="52" y="368.5">1</text>
<text x="52" y="271.2">2</text>
<text x="52" y="173.9">3</text>
<text x="52" y="76.6">4</text>
</g>
<g font-family="'Liberation Sans', sans-serif" font-size="16" fill="#000" text-anchor="middle">
<text x="60.4" y="610.5">0.00</text>
<text x="176.8" y="610.5">0.05</text>
<text x="293.1" y="610.5">0.10</text>
<text x="409.4" y="610.5">0.15</text>
<text x="525.8" y="610.5">0.20</text>
<text x="642.1" y="610.5">0.25</text>
</g>
<text transform="translate(18.3,294.7) rotate(-90)" font-family="'Liberation Sans', sans-serif" font-size="23.2" text-anchor="middle">Log I(q)</text>
<text x="320.5" y="651" font-family="'Liberation Sans', sans-serif" font-size="22">q (Å<tspan font-size="14" dy="-11" dx="0.8">-1</tspan><tspan dy="11" dx="3">)</tspan></text>
<g font-family="'Liberation Sans', sans-serif" font-size="18" font-weight="bold">
<text x="578.7" y="258">MjFtsZ</text>
<text x="578.7" y="321.2">EcFtsZ</text>
<text x="329.8" y="408.5" fill="#74749a">ring</text>
<text x="329.8" y="429.3" fill="#74749a">mixture</text>
<text x="418.5" y="454.8" fill="#a4a493">mini-ring</text>
<text x="418.5" y="475.2" fill="#a4a493">mixture</text>
<text x="547.6" y="458.2" fill="#7a7aa0">monomers</text>
<text x="494.2" y="534.8" fill="#cc1a1e">S-shape filament</text>
<text x="495" y="576.3" fill="#000">straight filament</text>
</g>
<rect x="430" y="3.2" width="211" height="152.1" fill="#fff"/>
<g stroke="#555" fill="none" stroke-width="1">
<path d="M430,2.6H641M430,2.6V155.3H641"/>
<path d="M430,122h4M641,122h-4.5"/>
<path d="M430,88.6h4M641,88.6h-4.5"/>
<path d="M430,55.3h4M641,55.3h-4.5"/>
<path d="M430,22h4M641,22h-4.5"/>
<path d="M454.8,155.3v-3.5M454.8,2.6v4.8"/>
<path d="M479.7,155.3v-3.5M479.7,2.6v4.8"/>
<path d="M504.5,155.3v-3.5M504.5,2.6v4.8"/>
<path d="M529.4,155.3v-3.5M529.4,2.6v4.8"/>
<path d="M554.2,155.3v-3.5M554.2,2.6v4.8"/>
<path d="M579,155.3v-3.5M579,2.6v4.8"/>
<path d="M603.9,155.3v-3.5M603.9,2.6v4.8"/>
<path d="M628.7,155.3v-3.5M628.7,2.6v4.8"/>
</g>
<g font-family="'Liberation Sans', sans-serif" font-size="11.5" text-anchor="end">
<text x="423" y="159.5">0</text>
<text x="423" y="126.2">50</text>
<text x="423" y="92.8">100</text>
<text x="423" y="59.5">150</text>
<text x="423" y="26.2">200</text>
</g>
<g font-family="'Liberation Sans', sans-serif" font-size="11.5" text-anchor="middle">
<text x="430" y="172.6">0</text>
<text x="454.8" y="172.6">2</text>
<text x="479.7" y="172.6">4</text>
<text x="504.5" y="172.6">6</text>
<text x="529.4" y="172.6">8</text>
<text x="554.2" y="172.6">10</text>
<text x="579" y="172.6">12</text>
<text x="603.9" y="172.6">14</text>
<text x="628.7" y="172.6">16</text>
</g>
<text transform="translate(397.6,69.3) rotate(-90)" font-family="'Liberation Sans', sans-serif" font-size="15.5" text-anchor="middle" stroke="#000" stroke-width="0.45">I(t)</text>
<text x="507.3" y="192.7" font-family="'Liberation Sans', sans-serif" font-size="15">t (min)</text>
<polyline points="429.4,29.2 432.3,10.2 435.2,46.2 438.4,38.9 441.5,48.6 444.5,45 448.1,42.1 451.3,45 454.2,86.3 457.4,80.2 460.5,58.4 463.9,83.9 466.9,78.3 470,108.2 473,107.5 476.1,90.5 479,90.5 482.7,111.4 485.4,94.8 488.8,123.5 491.9,119.9 495.6,122.3 500.9,123.5 504.1,111.4 507.3,126.4 510.2,120.4 513.8,133.3 517,117.9 519.9,119.2 523.1,108.7 526,138.1 529.2,121.6 532.4,128.9 535.3,124.5 538.5,121.6 541.4,109.4 544.6,129.4 547.5,97.8 550.7,107 554.3,136.2 556.7,154.4 560.4,113.8 563.6,124 566.5,105.8 569.4,105.8 572.5,126.4 575.7,143.5 579.1,113.1 582.3,135 585.4,108.2 588.4,135 591.3,132.5 594.4,119.2 597.6,107.7 600.5,108.2 604.2,125.2 607.3,104.6 610.2,106.3 613.4,125.2 616.6,111.9 619.5,113.1 622.4,109.4" fill="none" stroke="#333" stroke-width="0.9" stroke-linejoin="round"/>
<path d="M430,147H450.6" stroke="#cc1a1e" stroke-width="2.6"/>
<path d="M456.4,147H482.7" stroke="#80ff20" stroke-width="2.6"/>
<path d="M511,148.1H622.8" stroke="#1a00f0" stroke-width="3.4" stroke-linecap="round"/>
</svg>
</body></html>
